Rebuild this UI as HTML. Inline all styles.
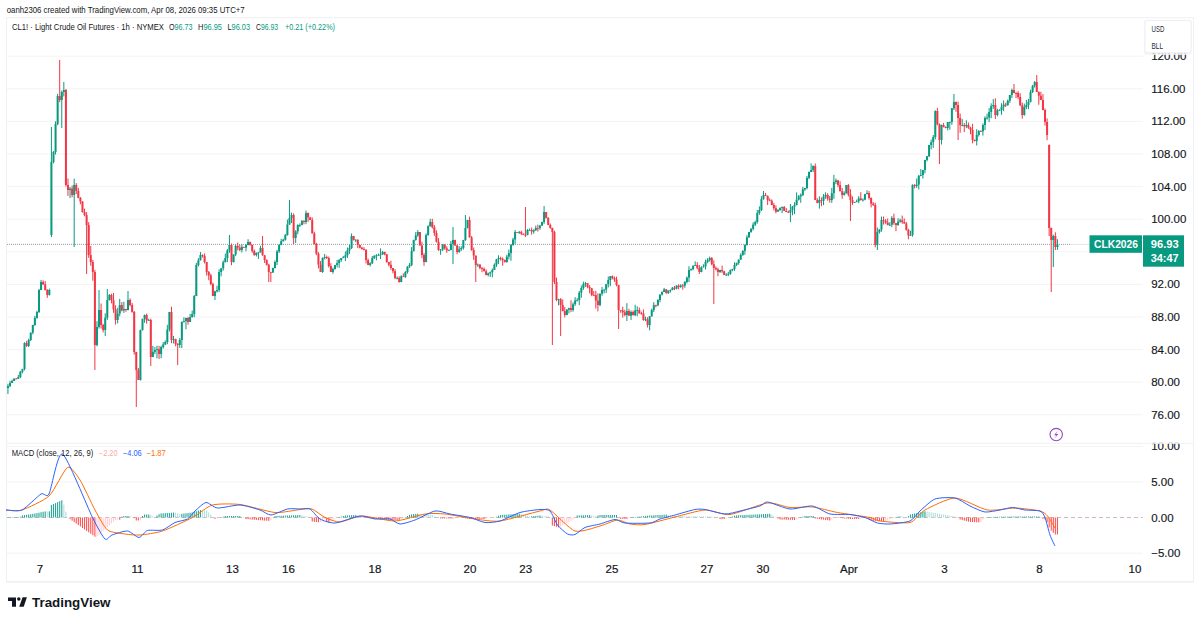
<!DOCTYPE html>
<html><head><meta charset="utf-8"><style>
html,body{margin:0;padding:0;background:#fff;width:1200px;height:621px;overflow:hidden}
svg{display:block}
</style></head><body>
<svg width="1200" height="621" viewBox="0 0 1200 621">
<rect width="1200" height="621" fill="#fff"/>
<line x1="7" y1="56.2" x2="1143" y2="56.2" stroke="#f3f3f4" stroke-width="1"/>
<line x1="7" y1="88.8" x2="1143" y2="88.8" stroke="#f3f3f4" stroke-width="1"/>
<line x1="7" y1="121.4" x2="1143" y2="121.4" stroke="#f3f3f4" stroke-width="1"/>
<line x1="7" y1="154.0" x2="1143" y2="154.0" stroke="#f3f3f4" stroke-width="1"/>
<line x1="7" y1="186.6" x2="1143" y2="186.6" stroke="#f3f3f4" stroke-width="1"/>
<line x1="7" y1="219.2" x2="1143" y2="219.2" stroke="#f3f3f4" stroke-width="1"/>
<line x1="7" y1="251.8" x2="1143" y2="251.8" stroke="#f3f3f4" stroke-width="1"/>
<line x1="7" y1="284.4" x2="1143" y2="284.4" stroke="#f3f3f4" stroke-width="1"/>
<line x1="7" y1="317.0" x2="1143" y2="317.0" stroke="#f3f3f4" stroke-width="1"/>
<line x1="7" y1="349.6" x2="1143" y2="349.6" stroke="#f3f3f4" stroke-width="1"/>
<line x1="7" y1="382.2" x2="1143" y2="382.2" stroke="#f3f3f4" stroke-width="1"/>
<line x1="7" y1="414.8" x2="1143" y2="414.8" stroke="#f3f3f4" stroke-width="1"/>
<line x1="7" y1="446.3" x2="1143" y2="446.3" stroke="#f3f3f4" stroke-width="1"/>
<line x1="7" y1="482.0" x2="1143" y2="482.0" stroke="#f3f3f4" stroke-width="1"/>
<line x1="7" y1="553.2" x2="1143" y2="553.2" stroke="#f3f3f4" stroke-width="1"/>
<rect x="6.5" y="17.8" width="1187" height="564" fill="none" stroke="#f0f0f2" stroke-width="1"/>
<line x1="7" y1="443.3" x2="1193" y2="443.3" stroke="#f0f0f2" stroke-width="1"/>
<line x1="7" y1="582" x2="1193" y2="582" stroke="#f0f0f2" stroke-width="1.5"/>
<line x1="7" y1="244.4" x2="1070" y2="244.4" stroke="#787B86" stroke-width="1" stroke-dasharray="1 1" opacity="0.75"/>
<line x1="1070" y1="244.4" x2="1090" y2="244.4" stroke="#e3e6ea" stroke-width="1"/>
<line x1="7.95" y1="383.8" x2="7.95" y2="394.0" stroke="#089981" stroke-width="1"/>
<rect x="6.95" y="386.0" width="2.0" height="2.0" fill="#089981"/>
<line x1="10.02" y1="380.7" x2="10.02" y2="387.3" stroke="#089981" stroke-width="1"/>
<rect x="9.02" y="383.0" width="2.0" height="3.0" fill="#089981"/>
<line x1="12.09" y1="379.5" x2="12.09" y2="383.0" stroke="#089981" stroke-width="1"/>
<rect x="11.09" y="381.0" width="2.0" height="2.0" fill="#089981"/>
<line x1="14.16" y1="378.4" x2="14.16" y2="381.0" stroke="#089981" stroke-width="1"/>
<rect x="13.16" y="378.6" width="2.0" height="2.4" fill="#089981"/>
<line x1="16.23" y1="377.9" x2="16.23" y2="379.1" stroke="#F23645" stroke-width="1"/>
<rect x="15.23" y="378.6" width="2.0" height="0.8" fill="#F23645"/>
<line x1="18.30" y1="374.8" x2="18.30" y2="378.8" stroke="#089981" stroke-width="1"/>
<rect x="17.30" y="377.0" width="2.0" height="1.8" fill="#089981"/>
<line x1="20.37" y1="371.0" x2="20.37" y2="378.2" stroke="#089981" stroke-width="1"/>
<rect x="19.37" y="371.7" width="2.0" height="5.3" fill="#089981"/>
<line x1="22.44" y1="368.8" x2="22.44" y2="373.3" stroke="#089981" stroke-width="1"/>
<rect x="21.44" y="369.0" width="2.0" height="2.7" fill="#089981"/>
<line x1="24.51" y1="342.3" x2="24.51" y2="370.4" stroke="#089981" stroke-width="1"/>
<rect x="23.51" y="343.0" width="2.0" height="26.0" fill="#089981"/>
<line x1="26.58" y1="340.9" x2="26.58" y2="346.8" stroke="#F23645" stroke-width="1"/>
<rect x="25.58" y="343.0" width="2.0" height="3.0" fill="#F23645"/>
<line x1="28.65" y1="338.7" x2="28.65" y2="347.0" stroke="#089981" stroke-width="1"/>
<rect x="27.65" y="340.0" width="2.0" height="6.0" fill="#089981"/>
<line x1="30.72" y1="332.6" x2="30.72" y2="341.1" stroke="#089981" stroke-width="1"/>
<rect x="29.72" y="332.6" width="2.0" height="7.4" fill="#089981"/>
<line x1="32.79" y1="324.8" x2="32.79" y2="334.2" stroke="#089981" stroke-width="1"/>
<rect x="31.79" y="325.0" width="2.0" height="7.6" fill="#089981"/>
<line x1="34.86" y1="315.9" x2="34.86" y2="325.9" stroke="#089981" stroke-width="1"/>
<rect x="33.86" y="318.0" width="2.0" height="7.0" fill="#089981"/>
<line x1="36.93" y1="310.7" x2="36.93" y2="318.8" stroke="#089981" stroke-width="1"/>
<rect x="35.93" y="312.0" width="2.0" height="6.0" fill="#089981"/>
<line x1="39.00" y1="288.8" x2="39.00" y2="313.1" stroke="#089981" stroke-width="1"/>
<rect x="38.00" y="290.0" width="2.0" height="22.0" fill="#089981"/>
<line x1="41.07" y1="279.9" x2="41.07" y2="290.2" stroke="#089981" stroke-width="1"/>
<rect x="40.07" y="282.0" width="2.0" height="8.0" fill="#089981"/>
<line x1="43.14" y1="280.3" x2="43.14" y2="285.0" stroke="#F23645" stroke-width="1"/>
<rect x="42.14" y="282.0" width="2.0" height="2.4" fill="#F23645"/>
<line x1="45.21" y1="281.1" x2="45.21" y2="290.5" stroke="#F23645" stroke-width="1"/>
<rect x="44.21" y="284.4" width="2.0" height="5.6" fill="#F23645"/>
<line x1="47.28" y1="289.1" x2="47.28" y2="297.8" stroke="#F23645" stroke-width="1"/>
<rect x="46.28" y="290.0" width="2.0" height="5.0" fill="#F23645"/>
<line x1="49.35" y1="288.7" x2="49.35" y2="295.5" stroke="#089981" stroke-width="1"/>
<rect x="48.35" y="290.0" width="2.0" height="5.0" fill="#089981"/>
<line x1="51.42" y1="127.0" x2="51.42" y2="237.1" stroke="#089981" stroke-width="1"/>
<rect x="50.42" y="162.0" width="2.0" height="73.0" fill="#089981"/>
<line x1="53.49" y1="151.1" x2="53.49" y2="163.4" stroke="#089981" stroke-width="1"/>
<rect x="52.49" y="152.0" width="2.0" height="10.0" fill="#089981"/>
<line x1="55.56" y1="121.4" x2="55.56" y2="154.5" stroke="#089981" stroke-width="1"/>
<rect x="54.56" y="124.1" width="2.0" height="27.9" fill="#089981"/>
<line x1="57.63" y1="93.8" x2="57.63" y2="125.2" stroke="#089981" stroke-width="1"/>
<rect x="56.63" y="96.0" width="2.0" height="28.1" fill="#089981"/>
<line x1="59.70" y1="60.0" x2="59.70" y2="102.2" stroke="#F23645" stroke-width="1"/>
<rect x="58.70" y="96.0" width="2.0" height="4.0" fill="#F23645"/>
<line x1="61.77" y1="90.5" x2="61.77" y2="128.0" stroke="#089981" stroke-width="1"/>
<rect x="60.77" y="92.0" width="2.0" height="8.0" fill="#089981"/>
<line x1="63.84" y1="82.0" x2="63.84" y2="96.4" stroke="#089981" stroke-width="1"/>
<rect x="62.84" y="90.0" width="2.0" height="2.0" fill="#089981"/>
<line x1="65.91" y1="89.0" x2="65.91" y2="186.6" stroke="#F23645" stroke-width="1"/>
<rect x="64.91" y="90.0" width="2.0" height="95.0" fill="#F23645"/>
<line x1="67.98" y1="178.5" x2="67.98" y2="195.9" stroke="#F23645" stroke-width="1"/>
<rect x="66.98" y="185.0" width="2.0" height="5.0" fill="#F23645"/>
<line x1="70.05" y1="187.0" x2="70.05" y2="198.1" stroke="#089981" stroke-width="1"/>
<rect x="69.05" y="188.6" width="2.0" height="1.4" fill="#089981"/>
<line x1="72.12" y1="185.5" x2="72.12" y2="197.3" stroke="#F23645" stroke-width="1"/>
<rect x="71.12" y="188.6" width="2.0" height="6.4" fill="#F23645"/>
<line x1="74.19" y1="178.7" x2="74.19" y2="247.0" stroke="#089981" stroke-width="1"/>
<rect x="73.19" y="185.0" width="2.0" height="10.0" fill="#089981"/>
<line x1="76.26" y1="183.1" x2="76.26" y2="194.0" stroke="#F23645" stroke-width="1"/>
<rect x="75.26" y="185.0" width="2.0" height="5.9" fill="#F23645"/>
<line x1="78.33" y1="187.9" x2="78.33" y2="198.3" stroke="#F23645" stroke-width="1"/>
<rect x="77.33" y="190.9" width="2.0" height="7.1" fill="#F23645"/>
<line x1="80.40" y1="197.0" x2="80.40" y2="204.2" stroke="#F23645" stroke-width="1"/>
<rect x="79.40" y="198.0" width="2.0" height="3.4" fill="#F23645"/>
<line x1="82.47" y1="201.3" x2="82.47" y2="212.7" stroke="#F23645" stroke-width="1"/>
<rect x="81.47" y="201.4" width="2.0" height="10.6" fill="#F23645"/>
<line x1="84.54" y1="208.6" x2="84.54" y2="216.3" stroke="#F23645" stroke-width="1"/>
<rect x="83.54" y="212.0" width="2.0" height="3.1" fill="#F23645"/>
<line x1="86.61" y1="212.1" x2="86.61" y2="274.0" stroke="#F23645" stroke-width="1"/>
<rect x="85.61" y="215.1" width="2.0" height="9.9" fill="#F23645"/>
<line x1="88.68" y1="222.1" x2="88.68" y2="257.8" stroke="#F23645" stroke-width="1"/>
<rect x="87.68" y="225.0" width="2.0" height="30.0" fill="#F23645"/>
<line x1="90.75" y1="246.0" x2="90.75" y2="265.8" stroke="#F23645" stroke-width="1"/>
<rect x="89.75" y="255.0" width="2.0" height="7.0" fill="#F23645"/>
<line x1="92.82" y1="259.9" x2="92.82" y2="280.7" stroke="#F23645" stroke-width="1"/>
<rect x="91.82" y="262.0" width="2.0" height="10.0" fill="#F23645"/>
<line x1="94.89" y1="269.9" x2="94.89" y2="370.0" stroke="#F23645" stroke-width="1"/>
<rect x="93.89" y="272.0" width="2.0" height="73.0" fill="#F23645"/>
<line x1="96.96" y1="321.2" x2="96.96" y2="346.4" stroke="#089981" stroke-width="1"/>
<rect x="95.96" y="326.9" width="2.0" height="18.1" fill="#089981"/>
<line x1="99.03" y1="290.0" x2="99.03" y2="328.6" stroke="#089981" stroke-width="1"/>
<rect x="98.03" y="310.0" width="2.0" height="16.9" fill="#089981"/>
<line x1="101.10" y1="303.5" x2="101.10" y2="328.5" stroke="#F23645" stroke-width="1"/>
<rect x="100.10" y="310.0" width="2.0" height="15.0" fill="#F23645"/>
<line x1="103.17" y1="323.9" x2="103.17" y2="332.4" stroke="#F23645" stroke-width="1"/>
<rect x="102.17" y="325.0" width="2.0" height="5.0" fill="#F23645"/>
<line x1="105.24" y1="313.3" x2="105.24" y2="336.1" stroke="#089981" stroke-width="1"/>
<rect x="104.24" y="317.7" width="2.0" height="12.3" fill="#089981"/>
<line x1="107.31" y1="289.0" x2="107.31" y2="320.0" stroke="#089981" stroke-width="1"/>
<rect x="106.31" y="300.0" width="2.0" height="17.7" fill="#089981"/>
<line x1="109.38" y1="294.0" x2="109.38" y2="300.6" stroke="#089981" stroke-width="1"/>
<rect x="108.38" y="295.0" width="2.0" height="5.0" fill="#089981"/>
<line x1="111.45" y1="293.7" x2="111.45" y2="303.4" stroke="#F23645" stroke-width="1"/>
<rect x="110.45" y="295.0" width="2.0" height="5.2" fill="#F23645"/>
<line x1="113.52" y1="293.0" x2="113.52" y2="312.8" stroke="#F23645" stroke-width="1"/>
<rect x="112.52" y="300.2" width="2.0" height="9.2" fill="#F23645"/>
<line x1="115.59" y1="305.3" x2="115.59" y2="324.5" stroke="#F23645" stroke-width="1"/>
<rect x="114.59" y="309.3" width="2.0" height="10.7" fill="#F23645"/>
<line x1="117.66" y1="307.8" x2="117.66" y2="323.3" stroke="#089981" stroke-width="1"/>
<rect x="116.66" y="313.6" width="2.0" height="6.4" fill="#089981"/>
<line x1="119.73" y1="298.9" x2="119.73" y2="316.3" stroke="#089981" stroke-width="1"/>
<rect x="118.73" y="305.0" width="2.0" height="8.6" fill="#089981"/>
<line x1="121.80" y1="302.1" x2="121.80" y2="311.3" stroke="#F23645" stroke-width="1"/>
<rect x="120.80" y="305.0" width="2.0" height="5.4" fill="#F23645"/>
<line x1="123.87" y1="301.7" x2="123.87" y2="312.9" stroke="#089981" stroke-width="1"/>
<rect x="122.87" y="309.0" width="2.0" height="1.4" fill="#089981"/>
<line x1="125.94" y1="308.8" x2="125.94" y2="311.8" stroke="#F23645" stroke-width="1"/>
<rect x="124.94" y="309.0" width="2.0" height="1.0" fill="#F23645"/>
<line x1="128.01" y1="291.0" x2="128.01" y2="310.4" stroke="#089981" stroke-width="1"/>
<rect x="127.01" y="300.0" width="2.0" height="10.0" fill="#089981"/>
<line x1="130.08" y1="298.5" x2="130.08" y2="306.4" stroke="#F23645" stroke-width="1"/>
<rect x="129.08" y="300.0" width="2.0" height="5.1" fill="#F23645"/>
<line x1="132.15" y1="303.0" x2="132.15" y2="312.7" stroke="#F23645" stroke-width="1"/>
<rect x="131.15" y="305.1" width="2.0" height="6.9" fill="#F23645"/>
<line x1="134.22" y1="310.9" x2="134.22" y2="354.7" stroke="#F23645" stroke-width="1"/>
<rect x="133.22" y="312.0" width="2.0" height="40.0" fill="#F23645"/>
<line x1="136.29" y1="351.8" x2="136.29" y2="407.0" stroke="#F23645" stroke-width="1"/>
<rect x="135.29" y="352.0" width="2.0" height="18.0" fill="#F23645"/>
<line x1="138.36" y1="367.9" x2="138.36" y2="380.0" stroke="#F23645" stroke-width="1"/>
<rect x="137.36" y="370.0" width="2.0" height="10.0" fill="#F23645"/>
<line x1="140.43" y1="329.6" x2="140.43" y2="380.5" stroke="#089981" stroke-width="1"/>
<rect x="139.43" y="330.0" width="2.0" height="50.0" fill="#089981"/>
<line x1="142.50" y1="318.8" x2="142.50" y2="330.6" stroke="#089981" stroke-width="1"/>
<rect x="141.50" y="318.8" width="2.0" height="11.2" fill="#089981"/>
<line x1="144.57" y1="314.6" x2="144.57" y2="322.8" stroke="#089981" stroke-width="1"/>
<rect x="143.57" y="315.0" width="2.0" height="3.8" fill="#089981"/>
<line x1="146.64" y1="313.7" x2="146.64" y2="323.7" stroke="#F23645" stroke-width="1"/>
<rect x="145.64" y="315.0" width="2.0" height="5.3" fill="#F23645"/>
<line x1="148.71" y1="318.6" x2="148.71" y2="320.9" stroke="#089981" stroke-width="1"/>
<rect x="147.71" y="320.0" width="2.0" height="0.8" fill="#089981"/>
<line x1="150.78" y1="318.6" x2="150.78" y2="366.0" stroke="#F23645" stroke-width="1"/>
<rect x="149.78" y="320.0" width="2.0" height="37.0" fill="#F23645"/>
<line x1="152.85" y1="345.8" x2="152.85" y2="357.2" stroke="#089981" stroke-width="1"/>
<rect x="151.85" y="351.8" width="2.0" height="5.2" fill="#089981"/>
<line x1="154.92" y1="347.1" x2="154.92" y2="354.2" stroke="#089981" stroke-width="1"/>
<rect x="153.92" y="350.0" width="2.0" height="1.8" fill="#089981"/>
<line x1="156.99" y1="345.7" x2="156.99" y2="358.3" stroke="#089981" stroke-width="1"/>
<rect x="155.99" y="349.2" width="2.0" height="0.8" fill="#089981"/>
<line x1="159.06" y1="345.9" x2="159.06" y2="359.0" stroke="#F23645" stroke-width="1"/>
<rect x="158.06" y="349.2" width="2.0" height="4.8" fill="#F23645"/>
<line x1="161.13" y1="345.8" x2="161.13" y2="358.3" stroke="#089981" stroke-width="1"/>
<rect x="160.13" y="347.0" width="2.0" height="7.0" fill="#089981"/>
<line x1="163.20" y1="342.1" x2="163.20" y2="348.6" stroke="#089981" stroke-width="1"/>
<rect x="162.20" y="344.5" width="2.0" height="2.5" fill="#089981"/>
<line x1="165.27" y1="340.4" x2="165.27" y2="345.0" stroke="#089981" stroke-width="1"/>
<rect x="164.27" y="342.0" width="2.0" height="2.5" fill="#089981"/>
<line x1="167.34" y1="324.8" x2="167.34" y2="344.2" stroke="#089981" stroke-width="1"/>
<rect x="166.34" y="329.5" width="2.0" height="12.5" fill="#089981"/>
<line x1="169.41" y1="311.9" x2="169.41" y2="331.4" stroke="#089981" stroke-width="1"/>
<rect x="168.41" y="312.0" width="2.0" height="17.5" fill="#089981"/>
<line x1="171.48" y1="306.8" x2="171.48" y2="343.1" stroke="#F23645" stroke-width="1"/>
<rect x="170.48" y="312.0" width="2.0" height="28.0" fill="#F23645"/>
<line x1="173.55" y1="335.9" x2="173.55" y2="343.4" stroke="#089981" stroke-width="1"/>
<rect x="172.55" y="339.1" width="2.0" height="0.9" fill="#089981"/>
<line x1="175.62" y1="338.7" x2="175.62" y2="346.3" stroke="#F23645" stroke-width="1"/>
<rect x="174.62" y="339.1" width="2.0" height="4.8" fill="#F23645"/>
<line x1="177.69" y1="343.0" x2="177.69" y2="365.0" stroke="#F23645" stroke-width="1"/>
<rect x="176.69" y="344.0" width="2.0" height="1.0" fill="#F23645"/>
<line x1="179.76" y1="338.1" x2="179.76" y2="347.9" stroke="#089981" stroke-width="1"/>
<rect x="178.76" y="340.0" width="2.0" height="5.0" fill="#089981"/>
<line x1="181.83" y1="321.3" x2="181.83" y2="348.1" stroke="#089981" stroke-width="1"/>
<rect x="180.83" y="322.0" width="2.0" height="18.0" fill="#089981"/>
<line x1="183.90" y1="317.2" x2="183.90" y2="322.7" stroke="#089981" stroke-width="1"/>
<rect x="182.90" y="321.1" width="2.0" height="0.9" fill="#089981"/>
<line x1="185.97" y1="317.7" x2="185.97" y2="329.3" stroke="#089981" stroke-width="1"/>
<rect x="184.97" y="318.0" width="2.0" height="3.1" fill="#089981"/>
<line x1="188.04" y1="316.9" x2="188.04" y2="324.8" stroke="#F23645" stroke-width="1"/>
<rect x="187.04" y="318.0" width="2.0" height="4.0" fill="#F23645"/>
<line x1="190.11" y1="313.9" x2="190.11" y2="322.0" stroke="#089981" stroke-width="1"/>
<rect x="189.11" y="317.0" width="2.0" height="5.0" fill="#089981"/>
<line x1="192.18" y1="310.5" x2="192.18" y2="317.6" stroke="#089981" stroke-width="1"/>
<rect x="191.18" y="314.0" width="2.0" height="3.0" fill="#089981"/>
<line x1="194.25" y1="295.0" x2="194.25" y2="317.2" stroke="#089981" stroke-width="1"/>
<rect x="193.25" y="296.0" width="2.0" height="18.0" fill="#089981"/>
<line x1="196.32" y1="262.9" x2="196.32" y2="296.1" stroke="#089981" stroke-width="1"/>
<rect x="195.32" y="265.0" width="2.0" height="31.0" fill="#089981"/>
<line x1="198.39" y1="258.1" x2="198.39" y2="266.4" stroke="#089981" stroke-width="1"/>
<rect x="197.39" y="260.3" width="2.0" height="4.7" fill="#089981"/>
<line x1="200.46" y1="252.0" x2="200.46" y2="260.4" stroke="#089981" stroke-width="1"/>
<rect x="199.46" y="255.0" width="2.0" height="5.3" fill="#089981"/>
<line x1="202.53" y1="254.4" x2="202.53" y2="257.5" stroke="#F23645" stroke-width="1"/>
<rect x="201.53" y="255.0" width="2.0" height="0.9" fill="#F23645"/>
<line x1="204.60" y1="253.4" x2="204.60" y2="263.5" stroke="#F23645" stroke-width="1"/>
<rect x="203.60" y="255.9" width="2.0" height="6.1" fill="#F23645"/>
<line x1="206.67" y1="262.0" x2="206.67" y2="275.5" stroke="#F23645" stroke-width="1"/>
<rect x="205.67" y="262.0" width="2.0" height="10.0" fill="#F23645"/>
<line x1="208.74" y1="271.0" x2="208.74" y2="280.2" stroke="#F23645" stroke-width="1"/>
<rect x="207.74" y="272.0" width="2.0" height="3.4" fill="#F23645"/>
<line x1="210.81" y1="273.8" x2="210.81" y2="285.3" stroke="#F23645" stroke-width="1"/>
<rect x="209.81" y="275.4" width="2.0" height="8.6" fill="#F23645"/>
<line x1="212.88" y1="282.7" x2="212.88" y2="296.1" stroke="#F23645" stroke-width="1"/>
<rect x="211.88" y="284.0" width="2.0" height="12.0" fill="#F23645"/>
<line x1="214.95" y1="290.7" x2="214.95" y2="300.0" stroke="#089981" stroke-width="1"/>
<rect x="213.95" y="291.3" width="2.0" height="4.7" fill="#089981"/>
<line x1="217.02" y1="285.7" x2="217.02" y2="292.5" stroke="#089981" stroke-width="1"/>
<rect x="216.02" y="290.0" width="2.0" height="1.3" fill="#089981"/>
<line x1="219.09" y1="269.4" x2="219.09" y2="292.1" stroke="#089981" stroke-width="1"/>
<rect x="218.09" y="272.0" width="2.0" height="18.0" fill="#089981"/>
<line x1="221.16" y1="268.0" x2="221.16" y2="276.3" stroke="#089981" stroke-width="1"/>
<rect x="220.16" y="268.4" width="2.0" height="3.6" fill="#089981"/>
<line x1="223.23" y1="260.4" x2="223.23" y2="270.6" stroke="#089981" stroke-width="1"/>
<rect x="222.23" y="262.2" width="2.0" height="6.1" fill="#089981"/>
<line x1="225.30" y1="253.6" x2="225.30" y2="262.4" stroke="#089981" stroke-width="1"/>
<rect x="224.30" y="258.0" width="2.0" height="4.2" fill="#089981"/>
<line x1="227.37" y1="249.0" x2="227.37" y2="262.1" stroke="#089981" stroke-width="1"/>
<rect x="226.37" y="250.4" width="2.0" height="7.6" fill="#089981"/>
<line x1="229.44" y1="235.0" x2="229.44" y2="252.9" stroke="#089981" stroke-width="1"/>
<rect x="228.44" y="245.0" width="2.0" height="5.4" fill="#089981"/>
<line x1="231.51" y1="243.5" x2="231.51" y2="265.2" stroke="#F23645" stroke-width="1"/>
<rect x="230.51" y="245.0" width="2.0" height="17.0" fill="#F23645"/>
<line x1="233.58" y1="254.4" x2="233.58" y2="262.6" stroke="#089981" stroke-width="1"/>
<rect x="232.58" y="254.5" width="2.0" height="7.5" fill="#089981"/>
<line x1="235.65" y1="244.5" x2="235.65" y2="256.1" stroke="#089981" stroke-width="1"/>
<rect x="234.65" y="246.0" width="2.0" height="8.5" fill="#089981"/>
<line x1="237.72" y1="242.6" x2="237.72" y2="250.4" stroke="#F23645" stroke-width="1"/>
<rect x="236.72" y="246.0" width="2.0" height="1.7" fill="#F23645"/>
<line x1="239.79" y1="244.7" x2="239.79" y2="251.2" stroke="#F23645" stroke-width="1"/>
<rect x="238.79" y="247.7" width="2.0" height="2.3" fill="#F23645"/>
<line x1="241.86" y1="244.4" x2="241.86" y2="252.5" stroke="#089981" stroke-width="1"/>
<rect x="240.86" y="246.9" width="2.0" height="3.1" fill="#089981"/>
<line x1="243.93" y1="246.7" x2="243.93" y2="247.7" stroke="#F23645" stroke-width="1"/>
<rect x="242.93" y="246.9" width="2.0" height="0.8" fill="#F23645"/>
<line x1="246.00" y1="244.0" x2="246.00" y2="251.3" stroke="#089981" stroke-width="1"/>
<rect x="245.00" y="245.1" width="2.0" height="2.5" fill="#089981"/>
<line x1="248.07" y1="239.2" x2="248.07" y2="245.2" stroke="#089981" stroke-width="1"/>
<rect x="247.07" y="242.0" width="2.0" height="3.1" fill="#089981"/>
<line x1="250.14" y1="241.6" x2="250.14" y2="245.6" stroke="#F23645" stroke-width="1"/>
<rect x="249.14" y="242.0" width="2.0" height="2.9" fill="#F23645"/>
<line x1="252.21" y1="244.7" x2="252.21" y2="252.8" stroke="#F23645" stroke-width="1"/>
<rect x="251.21" y="244.9" width="2.0" height="6.2" fill="#F23645"/>
<line x1="254.28" y1="249.5" x2="254.28" y2="255.8" stroke="#F23645" stroke-width="1"/>
<rect x="253.28" y="251.1" width="2.0" height="3.9" fill="#F23645"/>
<line x1="256.35" y1="252.6" x2="256.35" y2="256.5" stroke="#089981" stroke-width="1"/>
<rect x="255.35" y="252.8" width="2.0" height="2.2" fill="#089981"/>
<line x1="258.42" y1="252.0" x2="258.42" y2="258.9" stroke="#089981" stroke-width="1"/>
<rect x="257.42" y="252.4" width="2.0" height="0.8" fill="#089981"/>
<line x1="260.49" y1="245.8" x2="260.49" y2="252.5" stroke="#089981" stroke-width="1"/>
<rect x="259.49" y="248.0" width="2.0" height="4.4" fill="#089981"/>
<line x1="262.56" y1="236.0" x2="262.56" y2="255.7" stroke="#F23645" stroke-width="1"/>
<rect x="261.56" y="248.0" width="2.0" height="7.3" fill="#F23645"/>
<line x1="264.63" y1="254.9" x2="264.63" y2="263.0" stroke="#F23645" stroke-width="1"/>
<rect x="263.63" y="255.3" width="2.0" height="4.7" fill="#F23645"/>
<line x1="266.70" y1="259.4" x2="266.70" y2="265.5" stroke="#F23645" stroke-width="1"/>
<rect x="265.70" y="260.0" width="2.0" height="4.8" fill="#F23645"/>
<line x1="268.77" y1="263.8" x2="268.77" y2="282.0" stroke="#F23645" stroke-width="1"/>
<rect x="267.77" y="264.8" width="2.0" height="7.2" fill="#F23645"/>
<line x1="270.84" y1="271.9" x2="270.84" y2="282.0" stroke="#F23645" stroke-width="1"/>
<rect x="269.84" y="272.0" width="2.0" height="0.8" fill="#F23645"/>
<line x1="272.91" y1="267.7" x2="272.91" y2="272.8" stroke="#089981" stroke-width="1"/>
<rect x="271.91" y="268.0" width="2.0" height="4.6" fill="#089981"/>
<line x1="274.98" y1="260.4" x2="274.98" y2="268.6" stroke="#089981" stroke-width="1"/>
<rect x="273.98" y="262.0" width="2.0" height="6.0" fill="#089981"/>
<line x1="277.05" y1="249.8" x2="277.05" y2="265.0" stroke="#089981" stroke-width="1"/>
<rect x="276.05" y="251.4" width="2.0" height="10.6" fill="#089981"/>
<line x1="279.12" y1="244.2" x2="279.12" y2="253.0" stroke="#089981" stroke-width="1"/>
<rect x="278.12" y="245.0" width="2.0" height="6.4" fill="#089981"/>
<line x1="281.19" y1="238.8" x2="281.19" y2="245.3" stroke="#089981" stroke-width="1"/>
<rect x="280.19" y="241.2" width="2.0" height="3.8" fill="#089981"/>
<line x1="283.26" y1="238.7" x2="283.26" y2="241.5" stroke="#089981" stroke-width="1"/>
<rect x="282.26" y="239.7" width="2.0" height="1.5" fill="#089981"/>
<line x1="285.33" y1="233.9" x2="285.33" y2="240.6" stroke="#089981" stroke-width="1"/>
<rect x="284.33" y="235.0" width="2.0" height="4.7" fill="#089981"/>
<line x1="287.40" y1="219.6" x2="287.40" y2="235.7" stroke="#089981" stroke-width="1"/>
<rect x="286.40" y="224.6" width="2.0" height="10.4" fill="#089981"/>
<line x1="289.47" y1="200.0" x2="289.47" y2="224.9" stroke="#089981" stroke-width="1"/>
<rect x="288.47" y="218.0" width="2.0" height="6.6" fill="#089981"/>
<line x1="291.54" y1="212.6" x2="291.54" y2="223.1" stroke="#089981" stroke-width="1"/>
<rect x="290.54" y="215.0" width="2.0" height="3.0" fill="#089981"/>
<line x1="293.61" y1="213.4" x2="293.61" y2="244.0" stroke="#F23645" stroke-width="1"/>
<rect x="292.61" y="215.0" width="2.0" height="23.0" fill="#F23645"/>
<line x1="295.68" y1="230.2" x2="295.68" y2="243.0" stroke="#089981" stroke-width="1"/>
<rect x="294.68" y="231.4" width="2.0" height="6.6" fill="#089981"/>
<line x1="297.75" y1="224.3" x2="297.75" y2="234.2" stroke="#089981" stroke-width="1"/>
<rect x="296.75" y="225.0" width="2.0" height="6.4" fill="#089981"/>
<line x1="299.82" y1="223.4" x2="299.82" y2="227.0" stroke="#089981" stroke-width="1"/>
<rect x="298.82" y="225.0" width="2.0" height="0.8" fill="#089981"/>
<line x1="301.89" y1="220.0" x2="301.89" y2="225.3" stroke="#089981" stroke-width="1"/>
<rect x="300.89" y="221.1" width="2.0" height="3.9" fill="#089981"/>
<line x1="303.96" y1="220.0" x2="303.96" y2="224.3" stroke="#F23645" stroke-width="1"/>
<rect x="302.96" y="221.1" width="2.0" height="0.9" fill="#F23645"/>
<line x1="306.03" y1="210.5" x2="306.03" y2="224.2" stroke="#089981" stroke-width="1"/>
<rect x="305.03" y="213.0" width="2.0" height="9.0" fill="#089981"/>
<line x1="308.10" y1="212.5" x2="308.10" y2="221.9" stroke="#F23645" stroke-width="1"/>
<rect x="307.10" y="213.0" width="2.0" height="4.4" fill="#F23645"/>
<line x1="310.17" y1="216.9" x2="310.17" y2="220.0" stroke="#F23645" stroke-width="1"/>
<rect x="309.17" y="217.4" width="2.0" height="2.6" fill="#F23645"/>
<line x1="312.24" y1="217.5" x2="312.24" y2="233.5" stroke="#F23645" stroke-width="1"/>
<rect x="311.24" y="220.0" width="2.0" height="13.4" fill="#F23645"/>
<line x1="314.31" y1="231.7" x2="314.31" y2="244.5" stroke="#F23645" stroke-width="1"/>
<rect x="313.31" y="233.4" width="2.0" height="10.6" fill="#F23645"/>
<line x1="316.38" y1="242.8" x2="316.38" y2="255.2" stroke="#F23645" stroke-width="1"/>
<rect x="315.38" y="244.0" width="2.0" height="9.7" fill="#F23645"/>
<line x1="318.45" y1="252.1" x2="318.45" y2="268.4" stroke="#F23645" stroke-width="1"/>
<rect x="317.45" y="253.7" width="2.0" height="10.9" fill="#F23645"/>
<line x1="320.52" y1="261.1" x2="320.52" y2="272.0" stroke="#F23645" stroke-width="1"/>
<rect x="319.52" y="264.7" width="2.0" height="7.3" fill="#F23645"/>
<line x1="322.59" y1="257.4" x2="322.59" y2="272.9" stroke="#089981" stroke-width="1"/>
<rect x="321.59" y="258.0" width="2.0" height="14.0" fill="#089981"/>
<line x1="324.66" y1="254.0" x2="324.66" y2="259.5" stroke="#089981" stroke-width="1"/>
<rect x="323.66" y="257.0" width="2.0" height="1.0" fill="#089981"/>
<line x1="326.73" y1="255.6" x2="326.73" y2="259.0" stroke="#F23645" stroke-width="1"/>
<rect x="325.73" y="257.0" width="2.0" height="1.0" fill="#F23645"/>
<line x1="328.80" y1="256.5" x2="328.80" y2="267.6" stroke="#F23645" stroke-width="1"/>
<rect x="327.80" y="258.0" width="2.0" height="8.0" fill="#F23645"/>
<line x1="330.87" y1="263.2" x2="330.87" y2="272.0" stroke="#F23645" stroke-width="1"/>
<rect x="329.87" y="266.0" width="2.0" height="6.0" fill="#F23645"/>
<line x1="332.94" y1="267.6" x2="332.94" y2="273.7" stroke="#089981" stroke-width="1"/>
<rect x="331.94" y="269.0" width="2.0" height="3.0" fill="#089981"/>
<line x1="335.01" y1="264.9" x2="335.01" y2="269.7" stroke="#089981" stroke-width="1"/>
<rect x="334.01" y="265.0" width="2.0" height="4.0" fill="#089981"/>
<line x1="337.08" y1="259.9" x2="337.08" y2="267.4" stroke="#089981" stroke-width="1"/>
<rect x="336.08" y="263.1" width="2.0" height="1.9" fill="#089981"/>
<line x1="339.15" y1="259.0" x2="339.15" y2="267.9" stroke="#089981" stroke-width="1"/>
<rect x="338.15" y="260.1" width="2.0" height="3.0" fill="#089981"/>
<line x1="341.22" y1="258.0" x2="341.22" y2="261.8" stroke="#089981" stroke-width="1"/>
<rect x="340.22" y="258.0" width="2.0" height="2.1" fill="#089981"/>
<line x1="343.29" y1="255.9" x2="343.29" y2="258.1" stroke="#089981" stroke-width="1"/>
<rect x="342.29" y="257.3" width="2.0" height="0.8" fill="#089981"/>
<line x1="345.36" y1="251.6" x2="345.36" y2="261.1" stroke="#089981" stroke-width="1"/>
<rect x="344.36" y="255.4" width="2.0" height="1.9" fill="#089981"/>
<line x1="347.43" y1="247.5" x2="347.43" y2="258.0" stroke="#089981" stroke-width="1"/>
<rect x="346.43" y="250.4" width="2.0" height="5.0" fill="#089981"/>
<line x1="349.50" y1="244.8" x2="349.50" y2="253.8" stroke="#089981" stroke-width="1"/>
<rect x="348.50" y="248.0" width="2.0" height="2.4" fill="#089981"/>
<line x1="351.57" y1="233.5" x2="351.57" y2="249.0" stroke="#089981" stroke-width="1"/>
<rect x="350.57" y="236.0" width="2.0" height="12.0" fill="#089981"/>
<line x1="353.64" y1="235.9" x2="353.64" y2="240.5" stroke="#F23645" stroke-width="1"/>
<rect x="352.64" y="236.0" width="2.0" height="3.9" fill="#F23645"/>
<line x1="355.71" y1="239.4" x2="355.71" y2="242.2" stroke="#089981" stroke-width="1"/>
<rect x="354.71" y="239.7" width="2.0" height="0.8" fill="#089981"/>
<line x1="357.78" y1="239.6" x2="357.78" y2="248.1" stroke="#F23645" stroke-width="1"/>
<rect x="356.78" y="239.7" width="2.0" height="5.3" fill="#F23645"/>
<line x1="359.85" y1="244.8" x2="359.85" y2="248.4" stroke="#F23645" stroke-width="1"/>
<rect x="358.85" y="245.0" width="2.0" height="2.7" fill="#F23645"/>
<line x1="361.92" y1="246.7" x2="361.92" y2="249.6" stroke="#F23645" stroke-width="1"/>
<rect x="360.92" y="247.7" width="2.0" height="1.4" fill="#F23645"/>
<line x1="363.99" y1="247.2" x2="363.99" y2="250.3" stroke="#F23645" stroke-width="1"/>
<rect x="362.99" y="249.1" width="2.0" height="0.9" fill="#F23645"/>
<line x1="366.06" y1="249.0" x2="366.06" y2="263.5" stroke="#F23645" stroke-width="1"/>
<rect x="365.06" y="250.0" width="2.0" height="10.1" fill="#F23645"/>
<line x1="368.13" y1="258.5" x2="368.13" y2="265.2" stroke="#F23645" stroke-width="1"/>
<rect x="367.13" y="260.1" width="2.0" height="4.9" fill="#F23645"/>
<line x1="370.20" y1="262.2" x2="370.20" y2="266.5" stroke="#089981" stroke-width="1"/>
<rect x="369.20" y="263.2" width="2.0" height="1.8" fill="#089981"/>
<line x1="372.27" y1="256.0" x2="372.27" y2="264.0" stroke="#089981" stroke-width="1"/>
<rect x="371.27" y="258.0" width="2.0" height="5.2" fill="#089981"/>
<line x1="374.34" y1="255.2" x2="374.34" y2="259.1" stroke="#089981" stroke-width="1"/>
<rect x="373.34" y="255.8" width="2.0" height="2.2" fill="#089981"/>
<line x1="376.41" y1="254.2" x2="376.41" y2="260.3" stroke="#089981" stroke-width="1"/>
<rect x="375.41" y="255.4" width="2.0" height="0.8" fill="#089981"/>
<line x1="378.48" y1="253.5" x2="378.48" y2="255.4" stroke="#089981" stroke-width="1"/>
<rect x="377.48" y="255.0" width="2.0" height="0.8" fill="#089981"/>
<line x1="380.55" y1="248.4" x2="380.55" y2="259.0" stroke="#089981" stroke-width="1"/>
<rect x="379.55" y="254.4" width="2.0" height="0.8" fill="#089981"/>
<line x1="382.62" y1="250.9" x2="382.62" y2="254.8" stroke="#089981" stroke-width="1"/>
<rect x="381.62" y="252.0" width="2.0" height="2.4" fill="#089981"/>
<line x1="384.69" y1="251.7" x2="384.69" y2="255.3" stroke="#F23645" stroke-width="1"/>
<rect x="383.69" y="252.0" width="2.0" height="2.4" fill="#F23645"/>
<line x1="386.76" y1="253.9" x2="386.76" y2="262.8" stroke="#F23645" stroke-width="1"/>
<rect x="385.76" y="254.4" width="2.0" height="7.6" fill="#F23645"/>
<line x1="388.83" y1="261.9" x2="388.83" y2="266.4" stroke="#F23645" stroke-width="1"/>
<rect x="387.83" y="262.0" width="2.0" height="2.8" fill="#F23645"/>
<line x1="390.90" y1="260.7" x2="390.90" y2="269.9" stroke="#F23645" stroke-width="1"/>
<rect x="389.90" y="264.8" width="2.0" height="3.2" fill="#F23645"/>
<line x1="392.97" y1="268.0" x2="392.97" y2="273.4" stroke="#F23645" stroke-width="1"/>
<rect x="391.97" y="268.0" width="2.0" height="3.2" fill="#F23645"/>
<line x1="395.04" y1="269.0" x2="395.04" y2="279.3" stroke="#F23645" stroke-width="1"/>
<rect x="394.04" y="271.2" width="2.0" height="6.8" fill="#F23645"/>
<line x1="397.11" y1="276.5" x2="397.11" y2="279.4" stroke="#089981" stroke-width="1"/>
<rect x="396.11" y="277.9" width="2.0" height="0.8" fill="#089981"/>
<line x1="399.18" y1="276.3" x2="399.18" y2="282.7" stroke="#F23645" stroke-width="1"/>
<rect x="398.18" y="277.9" width="2.0" height="4.1" fill="#F23645"/>
<line x1="401.25" y1="275.2" x2="401.25" y2="282.2" stroke="#089981" stroke-width="1"/>
<rect x="400.25" y="276.3" width="2.0" height="5.7" fill="#089981"/>
<line x1="403.32" y1="273.3" x2="403.32" y2="276.8" stroke="#F23645" stroke-width="1"/>
<rect x="402.32" y="276.3" width="2.0" height="0.8" fill="#F23645"/>
<line x1="405.39" y1="271.0" x2="405.39" y2="277.9" stroke="#089981" stroke-width="1"/>
<rect x="404.39" y="272.0" width="2.0" height="4.8" fill="#089981"/>
<line x1="407.46" y1="266.3" x2="407.46" y2="273.6" stroke="#089981" stroke-width="1"/>
<rect x="406.46" y="266.5" width="2.0" height="5.5" fill="#089981"/>
<line x1="409.53" y1="263.1" x2="409.53" y2="267.9" stroke="#089981" stroke-width="1"/>
<rect x="408.53" y="265.0" width="2.0" height="1.5" fill="#089981"/>
<line x1="411.60" y1="247.1" x2="411.60" y2="266.2" stroke="#089981" stroke-width="1"/>
<rect x="410.60" y="251.1" width="2.0" height="13.9" fill="#089981"/>
<line x1="413.67" y1="239.7" x2="413.67" y2="251.5" stroke="#089981" stroke-width="1"/>
<rect x="412.67" y="240.0" width="2.0" height="11.1" fill="#089981"/>
<line x1="415.74" y1="232.1" x2="415.74" y2="240.7" stroke="#089981" stroke-width="1"/>
<rect x="414.74" y="235.4" width="2.0" height="4.6" fill="#089981"/>
<line x1="417.81" y1="230.1" x2="417.81" y2="236.9" stroke="#089981" stroke-width="1"/>
<rect x="416.81" y="232.0" width="2.0" height="3.4" fill="#089981"/>
<line x1="419.88" y1="232.0" x2="419.88" y2="245.5" stroke="#F23645" stroke-width="1"/>
<rect x="418.88" y="232.0" width="2.0" height="13.5" fill="#F23645"/>
<line x1="421.95" y1="241.7" x2="421.95" y2="258.1" stroke="#F23645" stroke-width="1"/>
<rect x="420.95" y="245.5" width="2.0" height="9.5" fill="#F23645"/>
<line x1="424.02" y1="253.1" x2="424.02" y2="265.8" stroke="#F23645" stroke-width="1"/>
<rect x="423.02" y="255.0" width="2.0" height="7.0" fill="#F23645"/>
<line x1="426.09" y1="233.4" x2="426.09" y2="262.3" stroke="#089981" stroke-width="1"/>
<rect x="425.09" y="235.0" width="2.0" height="27.0" fill="#089981"/>
<line x1="428.16" y1="225.3" x2="428.16" y2="235.8" stroke="#089981" stroke-width="1"/>
<rect x="427.16" y="226.2" width="2.0" height="8.8" fill="#089981"/>
<line x1="430.23" y1="218.8" x2="430.23" y2="226.7" stroke="#089981" stroke-width="1"/>
<rect x="429.23" y="222.0" width="2.0" height="4.2" fill="#089981"/>
<line x1="432.30" y1="218.8" x2="432.30" y2="228.5" stroke="#F23645" stroke-width="1"/>
<rect x="431.30" y="222.0" width="2.0" height="5.2" fill="#F23645"/>
<line x1="434.37" y1="225.0" x2="434.37" y2="235.9" stroke="#F23645" stroke-width="1"/>
<rect x="433.37" y="227.2" width="2.0" height="5.8" fill="#F23645"/>
<line x1="436.44" y1="230.4" x2="436.44" y2="242.5" stroke="#F23645" stroke-width="1"/>
<rect x="435.44" y="233.0" width="2.0" height="8.8" fill="#F23645"/>
<line x1="438.51" y1="238.1" x2="438.51" y2="250.9" stroke="#F23645" stroke-width="1"/>
<rect x="437.51" y="241.8" width="2.0" height="8.2" fill="#F23645"/>
<line x1="440.58" y1="249.0" x2="440.58" y2="254.8" stroke="#089981" stroke-width="1"/>
<rect x="439.58" y="249.6" width="2.0" height="0.8" fill="#089981"/>
<line x1="442.65" y1="243.9" x2="442.65" y2="251.0" stroke="#089981" stroke-width="1"/>
<rect x="441.65" y="245.0" width="2.0" height="4.6" fill="#089981"/>
<line x1="444.72" y1="243.9" x2="444.72" y2="249.6" stroke="#F23645" stroke-width="1"/>
<rect x="443.72" y="245.0" width="2.0" height="3.4" fill="#F23645"/>
<line x1="446.79" y1="246.2" x2="446.79" y2="252.8" stroke="#F23645" stroke-width="1"/>
<rect x="445.79" y="248.4" width="2.0" height="1.9" fill="#F23645"/>
<line x1="448.86" y1="249.4" x2="448.86" y2="250.8" stroke="#089981" stroke-width="1"/>
<rect x="447.86" y="250.0" width="2.0" height="0.8" fill="#089981"/>
<line x1="450.93" y1="241.0" x2="450.93" y2="250.4" stroke="#089981" stroke-width="1"/>
<rect x="449.93" y="243.8" width="2.0" height="6.2" fill="#089981"/>
<line x1="453.00" y1="227.0" x2="453.00" y2="264.0" stroke="#089981" stroke-width="1"/>
<rect x="452.00" y="240.0" width="2.0" height="3.8" fill="#089981"/>
<line x1="455.07" y1="239.7" x2="455.07" y2="245.7" stroke="#F23645" stroke-width="1"/>
<rect x="454.07" y="240.0" width="2.0" height="5.5" fill="#F23645"/>
<line x1="457.14" y1="244.8" x2="457.14" y2="254.3" stroke="#F23645" stroke-width="1"/>
<rect x="456.14" y="245.5" width="2.0" height="6.5" fill="#F23645"/>
<line x1="459.21" y1="246.2" x2="459.21" y2="252.8" stroke="#089981" stroke-width="1"/>
<rect x="458.21" y="249.2" width="2.0" height="2.8" fill="#089981"/>
<line x1="461.28" y1="246.2" x2="461.28" y2="250.9" stroke="#089981" stroke-width="1"/>
<rect x="460.28" y="248.0" width="2.0" height="1.2" fill="#089981"/>
<line x1="463.35" y1="239.9" x2="463.35" y2="249.6" stroke="#089981" stroke-width="1"/>
<rect x="462.35" y="240.1" width="2.0" height="7.9" fill="#089981"/>
<line x1="465.42" y1="215.0" x2="465.42" y2="240.9" stroke="#089981" stroke-width="1"/>
<rect x="464.42" y="228.0" width="2.0" height="12.1" fill="#089981"/>
<line x1="467.49" y1="219.8" x2="467.49" y2="228.4" stroke="#089981" stroke-width="1"/>
<rect x="466.49" y="220.0" width="2.0" height="8.0" fill="#089981"/>
<line x1="469.56" y1="216.7" x2="469.56" y2="237.5" stroke="#F23645" stroke-width="1"/>
<rect x="468.56" y="220.0" width="2.0" height="17.5" fill="#F23645"/>
<line x1="471.63" y1="236.0" x2="471.63" y2="250.8" stroke="#F23645" stroke-width="1"/>
<rect x="470.63" y="237.5" width="2.0" height="12.5" fill="#F23645"/>
<line x1="473.70" y1="247.5" x2="473.70" y2="259.9" stroke="#F23645" stroke-width="1"/>
<rect x="472.70" y="250.0" width="2.0" height="5.6" fill="#F23645"/>
<line x1="475.77" y1="255.5" x2="475.77" y2="282.0" stroke="#F23645" stroke-width="1"/>
<rect x="474.77" y="255.6" width="2.0" height="9.4" fill="#F23645"/>
<line x1="477.84" y1="263.5" x2="477.84" y2="266.9" stroke="#089981" stroke-width="1"/>
<rect x="476.84" y="264.7" width="2.0" height="0.8" fill="#089981"/>
<line x1="479.91" y1="264.1" x2="479.91" y2="269.3" stroke="#F23645" stroke-width="1"/>
<rect x="478.91" y="264.7" width="2.0" height="3.3" fill="#F23645"/>
<line x1="481.98" y1="267.0" x2="481.98" y2="272.3" stroke="#F23645" stroke-width="1"/>
<rect x="480.98" y="268.0" width="2.0" height="0.9" fill="#F23645"/>
<line x1="484.05" y1="267.4" x2="484.05" y2="271.3" stroke="#F23645" stroke-width="1"/>
<rect x="483.05" y="268.9" width="2.0" height="2.3" fill="#F23645"/>
<line x1="486.12" y1="269.4" x2="486.12" y2="275.4" stroke="#F23645" stroke-width="1"/>
<rect x="485.12" y="271.2" width="2.0" height="3.8" fill="#F23645"/>
<line x1="488.19" y1="272.6" x2="488.19" y2="276.4" stroke="#089981" stroke-width="1"/>
<rect x="487.19" y="273.3" width="2.0" height="1.7" fill="#089981"/>
<line x1="490.26" y1="271.5" x2="490.26" y2="276.9" stroke="#089981" stroke-width="1"/>
<rect x="489.26" y="272.2" width="2.0" height="1.1" fill="#089981"/>
<line x1="492.33" y1="268.5" x2="492.33" y2="277.3" stroke="#089981" stroke-width="1"/>
<rect x="491.33" y="270.0" width="2.0" height="2.2" fill="#089981"/>
<line x1="494.40" y1="263.3" x2="494.40" y2="270.0" stroke="#089981" stroke-width="1"/>
<rect x="493.40" y="264.7" width="2.0" height="5.3" fill="#089981"/>
<line x1="496.47" y1="258.9" x2="496.47" y2="266.9" stroke="#089981" stroke-width="1"/>
<rect x="495.47" y="259.3" width="2.0" height="5.4" fill="#089981"/>
<line x1="498.54" y1="255.3" x2="498.54" y2="263.9" stroke="#089981" stroke-width="1"/>
<rect x="497.54" y="258.0" width="2.0" height="1.3" fill="#089981"/>
<line x1="500.61" y1="256.7" x2="500.61" y2="260.6" stroke="#F23645" stroke-width="1"/>
<rect x="499.61" y="258.0" width="2.0" height="0.9" fill="#F23645"/>
<line x1="502.68" y1="257.5" x2="502.68" y2="265.7" stroke="#F23645" stroke-width="1"/>
<rect x="501.68" y="258.9" width="2.0" height="1.1" fill="#F23645"/>
<line x1="504.75" y1="259.5" x2="504.75" y2="262.6" stroke="#F23645" stroke-width="1"/>
<rect x="503.75" y="260.0" width="2.0" height="2.0" fill="#F23645"/>
<line x1="506.82" y1="254.7" x2="506.82" y2="262.8" stroke="#089981" stroke-width="1"/>
<rect x="505.82" y="256.7" width="2.0" height="5.3" fill="#089981"/>
<line x1="508.89" y1="249.5" x2="508.89" y2="259.4" stroke="#089981" stroke-width="1"/>
<rect x="507.89" y="253.1" width="2.0" height="3.5" fill="#089981"/>
<line x1="510.96" y1="244.2" x2="510.96" y2="260.7" stroke="#089981" stroke-width="1"/>
<rect x="509.96" y="245.0" width="2.0" height="8.1" fill="#089981"/>
<line x1="513.03" y1="237.8" x2="513.03" y2="245.8" stroke="#089981" stroke-width="1"/>
<rect x="512.03" y="239.5" width="2.0" height="5.5" fill="#089981"/>
<line x1="515.10" y1="230.0" x2="515.10" y2="244.3" stroke="#089981" stroke-width="1"/>
<rect x="514.10" y="232.0" width="2.0" height="7.5" fill="#089981"/>
<line x1="517.17" y1="232.0" x2="517.17" y2="232.6" stroke="#F23645" stroke-width="1"/>
<rect x="516.17" y="232.0" width="2.0" height="0.8" fill="#F23645"/>
<line x1="519.24" y1="230.9" x2="519.24" y2="233.9" stroke="#089981" stroke-width="1"/>
<rect x="518.24" y="232.0" width="2.0" height="0.8" fill="#089981"/>
<line x1="521.31" y1="230.6" x2="521.31" y2="235.1" stroke="#F23645" stroke-width="1"/>
<rect x="520.31" y="232.0" width="2.0" height="1.6" fill="#F23645"/>
<line x1="523.38" y1="233.6" x2="523.38" y2="235.1" stroke="#F23645" stroke-width="1"/>
<rect x="522.38" y="233.6" width="2.0" height="1.3" fill="#F23645"/>
<line x1="525.45" y1="207.0" x2="525.45" y2="237.0" stroke="#F23645" stroke-width="1"/>
<rect x="524.45" y="235.0" width="2.0" height="0.8" fill="#F23645"/>
<line x1="527.52" y1="229.0" x2="527.52" y2="235.3" stroke="#089981" stroke-width="1"/>
<rect x="526.52" y="230.0" width="2.0" height="5.0" fill="#089981"/>
<line x1="529.59" y1="228.5" x2="529.59" y2="230.4" stroke="#089981" stroke-width="1"/>
<rect x="528.59" y="230.0" width="2.0" height="0.8" fill="#089981"/>
<line x1="531.66" y1="227.5" x2="531.66" y2="234.7" stroke="#F23645" stroke-width="1"/>
<rect x="530.66" y="230.0" width="2.0" height="1.5" fill="#F23645"/>
<line x1="533.73" y1="229.2" x2="533.73" y2="233.6" stroke="#089981" stroke-width="1"/>
<rect x="532.73" y="230.2" width="2.0" height="1.3" fill="#089981"/>
<line x1="535.80" y1="225.6" x2="535.80" y2="231.0" stroke="#089981" stroke-width="1"/>
<rect x="534.80" y="228.0" width="2.0" height="2.2" fill="#089981"/>
<line x1="537.87" y1="224.6" x2="537.87" y2="231.6" stroke="#F23645" stroke-width="1"/>
<rect x="536.87" y="228.0" width="2.0" height="0.8" fill="#F23645"/>
<line x1="539.94" y1="224.9" x2="539.94" y2="230.0" stroke="#089981" stroke-width="1"/>
<rect x="538.94" y="225.6" width="2.0" height="2.4" fill="#089981"/>
<line x1="542.01" y1="221.6" x2="542.01" y2="226.0" stroke="#089981" stroke-width="1"/>
<rect x="541.01" y="222.0" width="2.0" height="3.6" fill="#089981"/>
<line x1="544.08" y1="206.0" x2="544.08" y2="224.1" stroke="#089981" stroke-width="1"/>
<rect x="543.08" y="212.0" width="2.0" height="10.0" fill="#089981"/>
<line x1="546.15" y1="211.9" x2="546.15" y2="218.5" stroke="#F23645" stroke-width="1"/>
<rect x="545.15" y="212.0" width="2.0" height="5.9" fill="#F23645"/>
<line x1="548.22" y1="217.1" x2="548.22" y2="225.2" stroke="#F23645" stroke-width="1"/>
<rect x="547.22" y="217.9" width="2.0" height="7.1" fill="#F23645"/>
<line x1="550.29" y1="223.5" x2="550.29" y2="228.8" stroke="#F23645" stroke-width="1"/>
<rect x="549.29" y="225.0" width="2.0" height="2.9" fill="#F23645"/>
<line x1="552.36" y1="227.8" x2="552.36" y2="345.0" stroke="#F23645" stroke-width="1"/>
<rect x="551.36" y="227.9" width="2.0" height="4.1" fill="#F23645"/>
<line x1="554.43" y1="230.7" x2="554.43" y2="284.1" stroke="#F23645" stroke-width="1"/>
<rect x="553.43" y="232.0" width="2.0" height="50.0" fill="#F23645"/>
<line x1="556.50" y1="277.5" x2="556.50" y2="301.2" stroke="#F23645" stroke-width="1"/>
<rect x="555.50" y="282.0" width="2.0" height="18.0" fill="#F23645"/>
<line x1="558.57" y1="298.8" x2="558.57" y2="305.3" stroke="#089981" stroke-width="1"/>
<rect x="557.57" y="299.2" width="2.0" height="0.8" fill="#089981"/>
<line x1="560.64" y1="298.1" x2="560.64" y2="336.0" stroke="#F23645" stroke-width="1"/>
<rect x="559.64" y="299.2" width="2.0" height="5.8" fill="#F23645"/>
<line x1="562.71" y1="299.4" x2="562.71" y2="311.3" stroke="#F23645" stroke-width="1"/>
<rect x="561.71" y="305.0" width="2.0" height="6.1" fill="#F23645"/>
<line x1="564.78" y1="307.0" x2="564.78" y2="317.4" stroke="#F23645" stroke-width="1"/>
<rect x="563.78" y="311.1" width="2.0" height="3.9" fill="#F23645"/>
<line x1="566.85" y1="309.0" x2="566.85" y2="315.3" stroke="#089981" stroke-width="1"/>
<rect x="565.85" y="309.7" width="2.0" height="5.3" fill="#089981"/>
<line x1="568.92" y1="307.7" x2="568.92" y2="313.4" stroke="#089981" stroke-width="1"/>
<rect x="567.92" y="308.1" width="2.0" height="1.6" fill="#089981"/>
<line x1="570.99" y1="300.2" x2="570.99" y2="312.2" stroke="#F23645" stroke-width="1"/>
<rect x="569.99" y="308.1" width="2.0" height="1.9" fill="#F23645"/>
<line x1="573.06" y1="302.4" x2="573.06" y2="311.6" stroke="#089981" stroke-width="1"/>
<rect x="572.06" y="304.3" width="2.0" height="5.7" fill="#089981"/>
<line x1="575.13" y1="297.1" x2="575.13" y2="305.9" stroke="#089981" stroke-width="1"/>
<rect x="574.13" y="300.5" width="2.0" height="3.7" fill="#089981"/>
<line x1="577.20" y1="298.1" x2="577.20" y2="301.5" stroke="#089981" stroke-width="1"/>
<rect x="576.20" y="300.0" width="2.0" height="0.8" fill="#089981"/>
<line x1="579.27" y1="290.9" x2="579.27" y2="305.1" stroke="#089981" stroke-width="1"/>
<rect x="578.27" y="292.7" width="2.0" height="7.3" fill="#089981"/>
<line x1="581.34" y1="285.5" x2="581.34" y2="297.8" stroke="#089981" stroke-width="1"/>
<rect x="580.34" y="288.0" width="2.0" height="4.7" fill="#089981"/>
<line x1="583.41" y1="281.7" x2="583.41" y2="289.8" stroke="#089981" stroke-width="1"/>
<rect x="582.41" y="284.0" width="2.0" height="4.0" fill="#089981"/>
<line x1="585.48" y1="281.9" x2="585.48" y2="286.8" stroke="#089981" stroke-width="1"/>
<rect x="584.48" y="283.2" width="2.0" height="0.8" fill="#089981"/>
<line x1="587.55" y1="283.0" x2="587.55" y2="288.3" stroke="#F23645" stroke-width="1"/>
<rect x="586.55" y="283.2" width="2.0" height="3.8" fill="#F23645"/>
<line x1="589.62" y1="285.2" x2="589.62" y2="293.3" stroke="#F23645" stroke-width="1"/>
<rect x="588.62" y="287.0" width="2.0" height="1.2" fill="#F23645"/>
<line x1="591.69" y1="288.1" x2="591.69" y2="296.2" stroke="#F23645" stroke-width="1"/>
<rect x="590.69" y="288.2" width="2.0" height="6.8" fill="#F23645"/>
<line x1="593.76" y1="291.0" x2="593.76" y2="296.0" stroke="#F23645" stroke-width="1"/>
<rect x="592.76" y="295.0" width="2.0" height="0.8" fill="#F23645"/>
<line x1="595.83" y1="290.9" x2="595.83" y2="308.6" stroke="#F23645" stroke-width="1"/>
<rect x="594.83" y="295.1" width="2.0" height="5.5" fill="#F23645"/>
<line x1="597.90" y1="293.4" x2="597.90" y2="311.4" stroke="#F23645" stroke-width="1"/>
<rect x="596.90" y="300.6" width="2.0" height="4.4" fill="#F23645"/>
<line x1="599.97" y1="293.5" x2="599.97" y2="306.3" stroke="#089981" stroke-width="1"/>
<rect x="598.97" y="293.7" width="2.0" height="11.3" fill="#089981"/>
<line x1="602.04" y1="286.9" x2="602.04" y2="295.8" stroke="#089981" stroke-width="1"/>
<rect x="601.04" y="290.0" width="2.0" height="3.7" fill="#089981"/>
<line x1="604.11" y1="288.8" x2="604.11" y2="293.4" stroke="#089981" stroke-width="1"/>
<rect x="603.11" y="289.7" width="2.0" height="0.8" fill="#089981"/>
<line x1="606.18" y1="283.9" x2="606.18" y2="293.0" stroke="#089981" stroke-width="1"/>
<rect x="605.18" y="284.2" width="2.0" height="5.4" fill="#089981"/>
<line x1="608.25" y1="276.5" x2="608.25" y2="287.5" stroke="#089981" stroke-width="1"/>
<rect x="607.25" y="280.0" width="2.0" height="4.2" fill="#089981"/>
<line x1="610.32" y1="276.1" x2="610.32" y2="286.2" stroke="#089981" stroke-width="1"/>
<rect x="609.32" y="276.2" width="2.0" height="3.8" fill="#089981"/>
<line x1="612.39" y1="275.4" x2="612.39" y2="279.4" stroke="#F23645" stroke-width="1"/>
<rect x="611.39" y="276.2" width="2.0" height="1.8" fill="#F23645"/>
<line x1="614.46" y1="276.6" x2="614.46" y2="281.8" stroke="#F23645" stroke-width="1"/>
<rect x="613.46" y="278.0" width="2.0" height="1.5" fill="#F23645"/>
<line x1="616.53" y1="276.7" x2="616.53" y2="286.3" stroke="#F23645" stroke-width="1"/>
<rect x="615.53" y="279.5" width="2.0" height="5.5" fill="#F23645"/>
<line x1="618.60" y1="284.8" x2="618.60" y2="329.0" stroke="#F23645" stroke-width="1"/>
<rect x="617.60" y="285.0" width="2.0" height="25.0" fill="#F23645"/>
<line x1="620.67" y1="310.0" x2="620.67" y2="312.8" stroke="#F23645" stroke-width="1"/>
<rect x="619.67" y="310.0" width="2.0" height="0.8" fill="#F23645"/>
<line x1="622.74" y1="306.7" x2="622.74" y2="317.6" stroke="#F23645" stroke-width="1"/>
<rect x="621.74" y="310.5" width="2.0" height="1.8" fill="#F23645"/>
<line x1="624.81" y1="309.8" x2="624.81" y2="316.3" stroke="#F23645" stroke-width="1"/>
<rect x="623.81" y="312.3" width="2.0" height="2.7" fill="#F23645"/>
<line x1="626.88" y1="303.2" x2="626.88" y2="321.0" stroke="#089981" stroke-width="1"/>
<rect x="625.88" y="311.0" width="2.0" height="4.0" fill="#089981"/>
<line x1="628.95" y1="308.8" x2="628.95" y2="315.8" stroke="#F23645" stroke-width="1"/>
<rect x="627.95" y="311.0" width="2.0" height="4.7" fill="#F23645"/>
<line x1="631.02" y1="310.4" x2="631.02" y2="320.0" stroke="#089981" stroke-width="1"/>
<rect x="630.02" y="312.0" width="2.0" height="3.7" fill="#089981"/>
<line x1="633.09" y1="310.6" x2="633.09" y2="315.3" stroke="#F23645" stroke-width="1"/>
<rect x="632.09" y="312.0" width="2.0" height="3.2" fill="#F23645"/>
<line x1="635.16" y1="304.7" x2="635.16" y2="316.1" stroke="#089981" stroke-width="1"/>
<rect x="634.16" y="310.4" width="2.0" height="4.8" fill="#089981"/>
<line x1="637.23" y1="306.3" x2="637.23" y2="316.2" stroke="#089981" stroke-width="1"/>
<rect x="636.23" y="310.0" width="2.0" height="0.8" fill="#089981"/>
<line x1="639.30" y1="307.5" x2="639.30" y2="313.9" stroke="#F23645" stroke-width="1"/>
<rect x="638.30" y="310.0" width="2.0" height="3.2" fill="#F23645"/>
<line x1="641.37" y1="311.7" x2="641.37" y2="314.8" stroke="#F23645" stroke-width="1"/>
<rect x="640.37" y="313.2" width="2.0" height="0.8" fill="#F23645"/>
<line x1="643.44" y1="309.4" x2="643.44" y2="320.7" stroke="#F23645" stroke-width="1"/>
<rect x="642.44" y="313.5" width="2.0" height="6.5" fill="#F23645"/>
<line x1="645.51" y1="316.7" x2="645.51" y2="321.3" stroke="#089981" stroke-width="1"/>
<rect x="644.51" y="319.4" width="2.0" height="0.8" fill="#089981"/>
<line x1="647.58" y1="317.2" x2="647.58" y2="327.5" stroke="#F23645" stroke-width="1"/>
<rect x="646.58" y="319.4" width="2.0" height="5.6" fill="#F23645"/>
<line x1="649.65" y1="316.0" x2="649.65" y2="330.3" stroke="#089981" stroke-width="1"/>
<rect x="648.65" y="316.3" width="2.0" height="8.7" fill="#089981"/>
<line x1="651.72" y1="308.7" x2="651.72" y2="316.7" stroke="#089981" stroke-width="1"/>
<rect x="650.72" y="310.0" width="2.0" height="6.3" fill="#089981"/>
<line x1="653.79" y1="302.2" x2="653.79" y2="312.0" stroke="#089981" stroke-width="1"/>
<rect x="652.79" y="305.2" width="2.0" height="4.8" fill="#089981"/>
<line x1="655.86" y1="304.7" x2="655.86" y2="307.4" stroke="#F23645" stroke-width="1"/>
<rect x="654.86" y="305.2" width="2.0" height="0.8" fill="#F23645"/>
<line x1="657.93" y1="299.1" x2="657.93" y2="306.3" stroke="#089981" stroke-width="1"/>
<rect x="656.93" y="300.0" width="2.0" height="5.2" fill="#089981"/>
<line x1="660.00" y1="294.5" x2="660.00" y2="302.3" stroke="#089981" stroke-width="1"/>
<rect x="659.00" y="294.5" width="2.0" height="5.5" fill="#089981"/>
<line x1="662.07" y1="291.3" x2="662.07" y2="295.5" stroke="#089981" stroke-width="1"/>
<rect x="661.07" y="292.0" width="2.0" height="2.5" fill="#089981"/>
<line x1="664.14" y1="287.9" x2="664.14" y2="292.1" stroke="#089981" stroke-width="1"/>
<rect x="663.14" y="289.4" width="2.0" height="2.6" fill="#089981"/>
<line x1="666.21" y1="289.0" x2="666.21" y2="293.9" stroke="#F23645" stroke-width="1"/>
<rect x="665.21" y="289.4" width="2.0" height="3.5" fill="#F23645"/>
<line x1="668.28" y1="290.2" x2="668.28" y2="294.0" stroke="#089981" stroke-width="1"/>
<rect x="667.28" y="290.6" width="2.0" height="2.3" fill="#089981"/>
<line x1="670.35" y1="289.4" x2="670.35" y2="292.7" stroke="#089981" stroke-width="1"/>
<rect x="669.35" y="290.0" width="2.0" height="0.8" fill="#089981"/>
<line x1="672.42" y1="287.0" x2="672.42" y2="290.3" stroke="#089981" stroke-width="1"/>
<rect x="671.42" y="287.7" width="2.0" height="2.3" fill="#089981"/>
<line x1="674.49" y1="286.0" x2="674.49" y2="290.0" stroke="#F23645" stroke-width="1"/>
<rect x="673.49" y="287.7" width="2.0" height="1.0" fill="#F23645"/>
<line x1="676.56" y1="285.2" x2="676.56" y2="289.3" stroke="#089981" stroke-width="1"/>
<rect x="675.56" y="285.7" width="2.0" height="3.0" fill="#089981"/>
<line x1="678.63" y1="284.3" x2="678.63" y2="289.3" stroke="#F23645" stroke-width="1"/>
<rect x="677.63" y="285.7" width="2.0" height="1.3" fill="#F23645"/>
<line x1="680.70" y1="284.3" x2="680.70" y2="287.8" stroke="#089981" stroke-width="1"/>
<rect x="679.70" y="285.5" width="2.0" height="1.5" fill="#089981"/>
<line x1="682.77" y1="283.9" x2="682.77" y2="289.7" stroke="#F23645" stroke-width="1"/>
<rect x="681.77" y="285.5" width="2.0" height="0.8" fill="#F23645"/>
<line x1="684.84" y1="281.1" x2="684.84" y2="287.8" stroke="#089981" stroke-width="1"/>
<rect x="683.84" y="282.0" width="2.0" height="3.7" fill="#089981"/>
<line x1="686.91" y1="276.5" x2="686.91" y2="283.4" stroke="#089981" stroke-width="1"/>
<rect x="685.91" y="277.6" width="2.0" height="4.4" fill="#089981"/>
<line x1="688.98" y1="266.2" x2="688.98" y2="282.0" stroke="#089981" stroke-width="1"/>
<rect x="687.98" y="270.0" width="2.0" height="7.6" fill="#089981"/>
<line x1="691.05" y1="268.4" x2="691.05" y2="270.9" stroke="#089981" stroke-width="1"/>
<rect x="690.05" y="269.2" width="2.0" height="0.8" fill="#089981"/>
<line x1="693.12" y1="265.5" x2="693.12" y2="270.3" stroke="#089981" stroke-width="1"/>
<rect x="692.12" y="265.6" width="2.0" height="3.5" fill="#089981"/>
<line x1="695.19" y1="261.3" x2="695.19" y2="265.8" stroke="#089981" stroke-width="1"/>
<rect x="694.19" y="265.0" width="2.0" height="0.8" fill="#089981"/>
<line x1="697.26" y1="262.2" x2="697.26" y2="269.4" stroke="#F23645" stroke-width="1"/>
<rect x="696.26" y="265.0" width="2.0" height="2.9" fill="#F23645"/>
<line x1="699.33" y1="264.9" x2="699.33" y2="274.0" stroke="#F23645" stroke-width="1"/>
<rect x="698.33" y="267.9" width="2.0" height="4.1" fill="#F23645"/>
<line x1="701.40" y1="266.2" x2="701.40" y2="272.3" stroke="#089981" stroke-width="1"/>
<rect x="700.40" y="267.2" width="2.0" height="4.8" fill="#089981"/>
<line x1="703.47" y1="264.3" x2="703.47" y2="267.4" stroke="#089981" stroke-width="1"/>
<rect x="702.47" y="266.5" width="2.0" height="0.8" fill="#089981"/>
<line x1="705.54" y1="259.6" x2="705.54" y2="269.4" stroke="#089981" stroke-width="1"/>
<rect x="704.54" y="262.0" width="2.0" height="4.5" fill="#089981"/>
<line x1="707.61" y1="258.1" x2="707.61" y2="263.3" stroke="#089981" stroke-width="1"/>
<rect x="706.61" y="260.1" width="2.0" height="1.9" fill="#089981"/>
<line x1="709.68" y1="256.6" x2="709.68" y2="261.6" stroke="#089981" stroke-width="1"/>
<rect x="708.68" y="258.0" width="2.0" height="2.1" fill="#089981"/>
<line x1="711.75" y1="257.1" x2="711.75" y2="265.3" stroke="#F23645" stroke-width="1"/>
<rect x="710.75" y="258.0" width="2.0" height="6.2" fill="#F23645"/>
<line x1="713.82" y1="260.3" x2="713.82" y2="304.0" stroke="#F23645" stroke-width="1"/>
<rect x="712.82" y="264.2" width="2.0" height="3.8" fill="#F23645"/>
<line x1="715.89" y1="266.4" x2="715.89" y2="270.5" stroke="#F23645" stroke-width="1"/>
<rect x="714.89" y="268.0" width="2.0" height="1.3" fill="#F23645"/>
<line x1="717.96" y1="267.7" x2="717.96" y2="276.2" stroke="#F23645" stroke-width="1"/>
<rect x="716.96" y="269.3" width="2.0" height="2.7" fill="#F23645"/>
<line x1="720.03" y1="269.7" x2="720.03" y2="272.9" stroke="#089981" stroke-width="1"/>
<rect x="719.03" y="270.0" width="2.0" height="2.0" fill="#089981"/>
<line x1="722.10" y1="265.6" x2="722.10" y2="273.0" stroke="#F23645" stroke-width="1"/>
<rect x="721.10" y="270.0" width="2.0" height="1.3" fill="#F23645"/>
<line x1="724.17" y1="270.7" x2="724.17" y2="275.1" stroke="#F23645" stroke-width="1"/>
<rect x="723.17" y="271.3" width="2.0" height="3.7" fill="#F23645"/>
<line x1="726.24" y1="273.1" x2="726.24" y2="275.8" stroke="#089981" stroke-width="1"/>
<rect x="725.24" y="274.7" width="2.0" height="0.8" fill="#089981"/>
<line x1="728.31" y1="271.8" x2="728.31" y2="276.0" stroke="#089981" stroke-width="1"/>
<rect x="727.31" y="273.8" width="2.0" height="0.9" fill="#089981"/>
<line x1="730.38" y1="269.5" x2="730.38" y2="274.7" stroke="#089981" stroke-width="1"/>
<rect x="729.38" y="270.0" width="2.0" height="3.8" fill="#089981"/>
<line x1="732.45" y1="268.8" x2="732.45" y2="271.2" stroke="#089981" stroke-width="1"/>
<rect x="731.45" y="269.0" width="2.0" height="1.0" fill="#089981"/>
<line x1="734.52" y1="262.2" x2="734.52" y2="270.9" stroke="#089981" stroke-width="1"/>
<rect x="733.52" y="265.0" width="2.0" height="4.0" fill="#089981"/>
<line x1="736.59" y1="262.5" x2="736.59" y2="266.0" stroke="#089981" stroke-width="1"/>
<rect x="735.59" y="263.0" width="2.0" height="2.0" fill="#089981"/>
<line x1="738.66" y1="259.4" x2="738.66" y2="264.7" stroke="#089981" stroke-width="1"/>
<rect x="737.66" y="259.7" width="2.0" height="3.3" fill="#089981"/>
<line x1="740.73" y1="253.3" x2="740.73" y2="259.9" stroke="#089981" stroke-width="1"/>
<rect x="739.73" y="255.0" width="2.0" height="4.7" fill="#089981"/>
<line x1="742.80" y1="250.1" x2="742.80" y2="255.9" stroke="#089981" stroke-width="1"/>
<rect x="741.80" y="251.0" width="2.0" height="4.0" fill="#089981"/>
<line x1="744.87" y1="244.4" x2="744.87" y2="254.7" stroke="#089981" stroke-width="1"/>
<rect x="743.87" y="245.0" width="2.0" height="6.0" fill="#089981"/>
<line x1="746.94" y1="235.2" x2="746.94" y2="245.6" stroke="#089981" stroke-width="1"/>
<rect x="745.94" y="237.3" width="2.0" height="7.7" fill="#089981"/>
<line x1="749.01" y1="232.0" x2="749.01" y2="237.8" stroke="#089981" stroke-width="1"/>
<rect x="748.01" y="232.0" width="2.0" height="5.3" fill="#089981"/>
<line x1="751.08" y1="228.3" x2="751.08" y2="232.8" stroke="#089981" stroke-width="1"/>
<rect x="750.08" y="228.7" width="2.0" height="3.3" fill="#089981"/>
<line x1="753.15" y1="222.4" x2="753.15" y2="230.3" stroke="#089981" stroke-width="1"/>
<rect x="752.15" y="224.6" width="2.0" height="4.2" fill="#089981"/>
<line x1="755.22" y1="220.6" x2="755.22" y2="226.0" stroke="#089981" stroke-width="1"/>
<rect x="754.22" y="222.0" width="2.0" height="2.6" fill="#089981"/>
<line x1="757.29" y1="210.0" x2="757.29" y2="223.6" stroke="#089981" stroke-width="1"/>
<rect x="756.29" y="213.0" width="2.0" height="9.0" fill="#089981"/>
<line x1="759.36" y1="206.3" x2="759.36" y2="214.8" stroke="#089981" stroke-width="1"/>
<rect x="758.36" y="210.0" width="2.0" height="3.0" fill="#089981"/>
<line x1="761.43" y1="196.2" x2="761.43" y2="211.0" stroke="#089981" stroke-width="1"/>
<rect x="760.43" y="199.1" width="2.0" height="10.9" fill="#089981"/>
<line x1="763.50" y1="191.0" x2="763.50" y2="199.7" stroke="#089981" stroke-width="1"/>
<rect x="762.50" y="195.0" width="2.0" height="4.1" fill="#089981"/>
<line x1="765.57" y1="192.9" x2="765.57" y2="196.1" stroke="#F23645" stroke-width="1"/>
<rect x="764.57" y="195.0" width="2.0" height="0.9" fill="#F23645"/>
<line x1="767.64" y1="195.5" x2="767.64" y2="205.0" stroke="#F23645" stroke-width="1"/>
<rect x="766.64" y="195.9" width="2.0" height="4.1" fill="#F23645"/>
<line x1="769.71" y1="198.2" x2="769.71" y2="201.2" stroke="#F23645" stroke-width="1"/>
<rect x="768.71" y="200.0" width="2.0" height="0.8" fill="#F23645"/>
<line x1="771.78" y1="199.4" x2="771.78" y2="205.2" stroke="#F23645" stroke-width="1"/>
<rect x="770.78" y="200.8" width="2.0" height="4.2" fill="#F23645"/>
<line x1="773.85" y1="202.9" x2="773.85" y2="210.3" stroke="#F23645" stroke-width="1"/>
<rect x="772.85" y="205.0" width="2.0" height="3.1" fill="#F23645"/>
<line x1="775.92" y1="205.4" x2="775.92" y2="213.3" stroke="#F23645" stroke-width="1"/>
<rect x="774.92" y="208.1" width="2.0" height="3.6" fill="#F23645"/>
<line x1="777.99" y1="209.2" x2="777.99" y2="211.7" stroke="#089981" stroke-width="1"/>
<rect x="776.99" y="210.0" width="2.0" height="1.6" fill="#089981"/>
<line x1="780.06" y1="207.3" x2="780.06" y2="210.9" stroke="#089981" stroke-width="1"/>
<rect x="779.06" y="208.1" width="2.0" height="1.9" fill="#089981"/>
<line x1="782.13" y1="206.5" x2="782.13" y2="213.1" stroke="#089981" stroke-width="1"/>
<rect x="781.13" y="207.0" width="2.0" height="1.1" fill="#089981"/>
<line x1="784.20" y1="206.0" x2="784.20" y2="211.0" stroke="#F23645" stroke-width="1"/>
<rect x="783.20" y="207.0" width="2.0" height="3.9" fill="#F23645"/>
<line x1="786.27" y1="208.1" x2="786.27" y2="212.1" stroke="#F23645" stroke-width="1"/>
<rect x="785.27" y="210.9" width="2.0" height="1.1" fill="#F23645"/>
<line x1="788.34" y1="210.5" x2="788.34" y2="213.0" stroke="#F23645" stroke-width="1"/>
<rect x="787.34" y="212.0" width="2.0" height="0.8" fill="#F23645"/>
<line x1="790.41" y1="204.0" x2="790.41" y2="222.0" stroke="#089981" stroke-width="1"/>
<rect x="789.41" y="210.0" width="2.0" height="2.5" fill="#089981"/>
<line x1="792.48" y1="205.9" x2="792.48" y2="215.3" stroke="#089981" stroke-width="1"/>
<rect x="791.48" y="206.5" width="2.0" height="3.5" fill="#089981"/>
<line x1="794.55" y1="202.2" x2="794.55" y2="214.2" stroke="#089981" stroke-width="1"/>
<rect x="793.55" y="205.0" width="2.0" height="1.5" fill="#089981"/>
<line x1="796.62" y1="192.4" x2="796.62" y2="205.4" stroke="#089981" stroke-width="1"/>
<rect x="795.62" y="199.7" width="2.0" height="5.3" fill="#089981"/>
<line x1="798.69" y1="194.9" x2="798.69" y2="200.5" stroke="#089981" stroke-width="1"/>
<rect x="797.69" y="196.4" width="2.0" height="3.3" fill="#089981"/>
<line x1="800.76" y1="193.4" x2="800.76" y2="202.8" stroke="#089981" stroke-width="1"/>
<rect x="799.76" y="195.0" width="2.0" height="1.4" fill="#089981"/>
<line x1="802.83" y1="186.9" x2="802.83" y2="196.1" stroke="#089981" stroke-width="1"/>
<rect x="801.83" y="189.3" width="2.0" height="5.7" fill="#089981"/>
<line x1="804.90" y1="187.9" x2="804.90" y2="191.0" stroke="#089981" stroke-width="1"/>
<rect x="803.90" y="188.0" width="2.0" height="1.3" fill="#089981"/>
<line x1="806.97" y1="176.0" x2="806.97" y2="189.4" stroke="#089981" stroke-width="1"/>
<rect x="805.97" y="177.9" width="2.0" height="10.1" fill="#089981"/>
<line x1="809.04" y1="171.4" x2="809.04" y2="179.3" stroke="#089981" stroke-width="1"/>
<rect x="808.04" y="172.0" width="2.0" height="5.9" fill="#089981"/>
<line x1="811.11" y1="163.4" x2="811.11" y2="172.1" stroke="#089981" stroke-width="1"/>
<rect x="810.11" y="169.9" width="2.0" height="2.1" fill="#089981"/>
<line x1="813.18" y1="165.4" x2="813.18" y2="172.1" stroke="#089981" stroke-width="1"/>
<rect x="812.18" y="166.0" width="2.0" height="3.9" fill="#089981"/>
<line x1="815.25" y1="163.5" x2="815.25" y2="200.1" stroke="#F23645" stroke-width="1"/>
<rect x="814.25" y="166.0" width="2.0" height="34.0" fill="#F23645"/>
<line x1="817.32" y1="198.2" x2="817.32" y2="203.3" stroke="#F23645" stroke-width="1"/>
<rect x="816.32" y="200.0" width="2.0" height="2.9" fill="#F23645"/>
<line x1="819.39" y1="196.4" x2="819.39" y2="208.6" stroke="#089981" stroke-width="1"/>
<rect x="818.39" y="200.0" width="2.0" height="2.9" fill="#089981"/>
<line x1="821.46" y1="197.4" x2="821.46" y2="206.3" stroke="#F23645" stroke-width="1"/>
<rect x="820.46" y="200.0" width="2.0" height="0.8" fill="#F23645"/>
<line x1="823.53" y1="194.1" x2="823.53" y2="205.2" stroke="#089981" stroke-width="1"/>
<rect x="822.53" y="196.5" width="2.0" height="4.3" fill="#089981"/>
<line x1="825.60" y1="192.3" x2="825.60" y2="198.9" stroke="#089981" stroke-width="1"/>
<rect x="824.60" y="195.0" width="2.0" height="1.5" fill="#089981"/>
<line x1="827.67" y1="193.2" x2="827.67" y2="200.7" stroke="#F23645" stroke-width="1"/>
<rect x="826.67" y="195.0" width="2.0" height="3.6" fill="#F23645"/>
<line x1="829.74" y1="196.0" x2="829.74" y2="202.6" stroke="#F23645" stroke-width="1"/>
<rect x="828.74" y="198.6" width="2.0" height="1.4" fill="#F23645"/>
<line x1="831.81" y1="187.9" x2="831.81" y2="202.9" stroke="#089981" stroke-width="1"/>
<rect x="830.81" y="193.2" width="2.0" height="6.8" fill="#089981"/>
<line x1="833.88" y1="174.8" x2="833.88" y2="198.7" stroke="#089981" stroke-width="1"/>
<rect x="832.88" y="182.0" width="2.0" height="11.2" fill="#089981"/>
<line x1="835.95" y1="178.5" x2="835.95" y2="184.1" stroke="#089981" stroke-width="1"/>
<rect x="834.95" y="180.5" width="2.0" height="1.5" fill="#089981"/>
<line x1="838.02" y1="179.8" x2="838.02" y2="187.2" stroke="#F23645" stroke-width="1"/>
<rect x="837.02" y="180.5" width="2.0" height="4.5" fill="#F23645"/>
<line x1="840.09" y1="181.2" x2="840.09" y2="191.4" stroke="#F23645" stroke-width="1"/>
<rect x="839.09" y="185.0" width="2.0" height="6.2" fill="#F23645"/>
<line x1="842.16" y1="188.0" x2="842.16" y2="198.8" stroke="#F23645" stroke-width="1"/>
<rect x="841.16" y="191.2" width="2.0" height="3.8" fill="#F23645"/>
<line x1="844.23" y1="191.3" x2="844.23" y2="195.6" stroke="#089981" stroke-width="1"/>
<rect x="843.23" y="193.0" width="2.0" height="2.0" fill="#089981"/>
<line x1="846.30" y1="185.0" x2="846.30" y2="193.9" stroke="#089981" stroke-width="1"/>
<rect x="845.30" y="185.0" width="2.0" height="8.0" fill="#089981"/>
<line x1="848.37" y1="184.1" x2="848.37" y2="196.5" stroke="#F23645" stroke-width="1"/>
<rect x="847.37" y="185.0" width="2.0" height="9.5" fill="#F23645"/>
<line x1="850.44" y1="189.2" x2="850.44" y2="221.0" stroke="#F23645" stroke-width="1"/>
<rect x="849.44" y="194.5" width="2.0" height="5.5" fill="#F23645"/>
<line x1="852.51" y1="196.4" x2="852.51" y2="205.0" stroke="#F23645" stroke-width="1"/>
<rect x="851.51" y="200.0" width="2.0" height="2.8" fill="#F23645"/>
<line x1="854.58" y1="201.9" x2="854.58" y2="203.0" stroke="#089981" stroke-width="1"/>
<rect x="853.58" y="202.0" width="2.0" height="0.8" fill="#089981"/>
<line x1="856.65" y1="199.6" x2="856.65" y2="202.3" stroke="#089981" stroke-width="1"/>
<rect x="855.65" y="201.2" width="2.0" height="0.8" fill="#089981"/>
<line x1="858.72" y1="196.1" x2="858.72" y2="203.2" stroke="#089981" stroke-width="1"/>
<rect x="857.72" y="198.4" width="2.0" height="2.8" fill="#089981"/>
<line x1="860.79" y1="192.2" x2="860.79" y2="200.5" stroke="#F23645" stroke-width="1"/>
<rect x="859.79" y="198.4" width="2.0" height="1.6" fill="#F23645"/>
<line x1="862.86" y1="198.4" x2="862.86" y2="201.5" stroke="#089981" stroke-width="1"/>
<rect x="861.86" y="199.7" width="2.0" height="0.8" fill="#089981"/>
<line x1="864.93" y1="193.8" x2="864.93" y2="200.3" stroke="#089981" stroke-width="1"/>
<rect x="863.93" y="194.1" width="2.0" height="5.6" fill="#089981"/>
<line x1="867.00" y1="190.3" x2="867.00" y2="194.2" stroke="#089981" stroke-width="1"/>
<rect x="866.00" y="193.0" width="2.0" height="1.1" fill="#089981"/>
<line x1="869.07" y1="190.9" x2="869.07" y2="199.7" stroke="#F23645" stroke-width="1"/>
<rect x="868.07" y="193.0" width="2.0" height="5.0" fill="#F23645"/>
<line x1="871.14" y1="197.4" x2="871.14" y2="207.4" stroke="#F23645" stroke-width="1"/>
<rect x="870.14" y="198.0" width="2.0" height="5.7" fill="#F23645"/>
<line x1="873.21" y1="202.0" x2="873.21" y2="206.0" stroke="#F23645" stroke-width="1"/>
<rect x="872.21" y="203.7" width="2.0" height="1.3" fill="#F23645"/>
<line x1="875.28" y1="202.7" x2="875.28" y2="247.3" stroke="#F23645" stroke-width="1"/>
<rect x="874.28" y="205.0" width="2.0" height="40.0" fill="#F23645"/>
<line x1="877.35" y1="227.5" x2="877.35" y2="250.1" stroke="#089981" stroke-width="1"/>
<rect x="876.35" y="232.0" width="2.0" height="13.0" fill="#089981"/>
<line x1="879.42" y1="229.3" x2="879.42" y2="233.6" stroke="#089981" stroke-width="1"/>
<rect x="878.42" y="229.4" width="2.0" height="2.6" fill="#089981"/>
<line x1="881.49" y1="216.6" x2="881.49" y2="231.7" stroke="#089981" stroke-width="1"/>
<rect x="880.49" y="220.0" width="2.0" height="9.4" fill="#089981"/>
<line x1="883.56" y1="216.5" x2="883.56" y2="224.6" stroke="#F23645" stroke-width="1"/>
<rect x="882.56" y="220.0" width="2.0" height="0.9" fill="#F23645"/>
<line x1="885.63" y1="219.1" x2="885.63" y2="223.9" stroke="#F23645" stroke-width="1"/>
<rect x="884.63" y="220.9" width="2.0" height="1.7" fill="#F23645"/>
<line x1="887.70" y1="218.5" x2="887.70" y2="225.3" stroke="#F23645" stroke-width="1"/>
<rect x="886.70" y="222.6" width="2.0" height="2.4" fill="#F23645"/>
<line x1="889.77" y1="222.2" x2="889.77" y2="226.0" stroke="#089981" stroke-width="1"/>
<rect x="888.77" y="224.7" width="2.0" height="0.8" fill="#089981"/>
<line x1="891.84" y1="216.1" x2="891.84" y2="227.2" stroke="#089981" stroke-width="1"/>
<rect x="890.84" y="218.0" width="2.0" height="6.7" fill="#089981"/>
<line x1="893.91" y1="213.7" x2="893.91" y2="224.9" stroke="#F23645" stroke-width="1"/>
<rect x="892.91" y="218.0" width="2.0" height="5.1" fill="#F23645"/>
<line x1="895.98" y1="223.1" x2="895.98" y2="231.2" stroke="#F23645" stroke-width="1"/>
<rect x="894.98" y="223.1" width="2.0" height="1.9" fill="#F23645"/>
<line x1="898.05" y1="218.2" x2="898.05" y2="226.0" stroke="#089981" stroke-width="1"/>
<rect x="897.05" y="221.6" width="2.0" height="3.4" fill="#089981"/>
<line x1="900.12" y1="218.6" x2="900.12" y2="222.8" stroke="#089981" stroke-width="1"/>
<rect x="899.12" y="220.3" width="2.0" height="1.3" fill="#089981"/>
<line x1="902.19" y1="215.6" x2="902.19" y2="223.8" stroke="#F23645" stroke-width="1"/>
<rect x="901.19" y="220.3" width="2.0" height="1.7" fill="#F23645"/>
<line x1="904.26" y1="218.4" x2="904.26" y2="223.8" stroke="#F23645" stroke-width="1"/>
<rect x="903.26" y="222.0" width="2.0" height="1.5" fill="#F23645"/>
<line x1="906.33" y1="222.0" x2="906.33" y2="230.6" stroke="#F23645" stroke-width="1"/>
<rect x="905.33" y="223.5" width="2.0" height="6.5" fill="#F23645"/>
<line x1="908.40" y1="228.7" x2="908.40" y2="239.3" stroke="#F23645" stroke-width="1"/>
<rect x="907.40" y="230.0" width="2.0" height="5.5" fill="#F23645"/>
<line x1="910.47" y1="230.7" x2="910.47" y2="235.7" stroke="#089981" stroke-width="1"/>
<rect x="909.47" y="235.0" width="2.0" height="0.8" fill="#089981"/>
<line x1="912.54" y1="184.3" x2="912.54" y2="236.7" stroke="#089981" stroke-width="1"/>
<rect x="911.54" y="185.0" width="2.0" height="50.0" fill="#089981"/>
<line x1="914.61" y1="184.1" x2="914.61" y2="188.4" stroke="#F23645" stroke-width="1"/>
<rect x="913.61" y="185.0" width="2.0" height="1.0" fill="#F23645"/>
<line x1="916.68" y1="178.5" x2="916.68" y2="187.9" stroke="#089981" stroke-width="1"/>
<rect x="915.68" y="184.7" width="2.0" height="1.3" fill="#089981"/>
<line x1="918.75" y1="174.9" x2="918.75" y2="189.5" stroke="#089981" stroke-width="1"/>
<rect x="917.75" y="175.9" width="2.0" height="8.7" fill="#089981"/>
<line x1="920.82" y1="169.1" x2="920.82" y2="176.2" stroke="#089981" stroke-width="1"/>
<rect x="919.82" y="175.0" width="2.0" height="0.9" fill="#089981"/>
<line x1="922.89" y1="169.9" x2="922.89" y2="178.5" stroke="#089981" stroke-width="1"/>
<rect x="921.89" y="170.0" width="2.0" height="5.0" fill="#089981"/>
<line x1="924.96" y1="159.8" x2="924.96" y2="173.4" stroke="#089981" stroke-width="1"/>
<rect x="923.96" y="160.0" width="2.0" height="10.0" fill="#089981"/>
<line x1="927.03" y1="156.0" x2="927.03" y2="161.4" stroke="#089981" stroke-width="1"/>
<rect x="926.03" y="156.2" width="2.0" height="3.8" fill="#089981"/>
<line x1="929.10" y1="144.9" x2="929.10" y2="157.1" stroke="#089981" stroke-width="1"/>
<rect x="928.10" y="145.0" width="2.0" height="11.2" fill="#089981"/>
<line x1="931.17" y1="139.6" x2="931.17" y2="149.4" stroke="#089981" stroke-width="1"/>
<rect x="930.17" y="142.2" width="2.0" height="2.8" fill="#089981"/>
<line x1="933.24" y1="135.0" x2="933.24" y2="147.9" stroke="#089981" stroke-width="1"/>
<rect x="932.24" y="137.0" width="2.0" height="5.2" fill="#089981"/>
<line x1="935.31" y1="110.4" x2="935.31" y2="139.4" stroke="#089981" stroke-width="1"/>
<rect x="934.31" y="111.0" width="2.0" height="26.0" fill="#089981"/>
<line x1="937.38" y1="107.9" x2="937.38" y2="125.4" stroke="#F23645" stroke-width="1"/>
<rect x="936.38" y="111.0" width="2.0" height="13.3" fill="#F23645"/>
<line x1="939.45" y1="123.4" x2="939.45" y2="164.0" stroke="#F23645" stroke-width="1"/>
<rect x="938.45" y="124.3" width="2.0" height="15.7" fill="#F23645"/>
<line x1="941.52" y1="124.6" x2="941.52" y2="144.5" stroke="#089981" stroke-width="1"/>
<rect x="940.52" y="125.0" width="2.0" height="15.0" fill="#089981"/>
<line x1="943.59" y1="122.9" x2="943.59" y2="127.4" stroke="#F23645" stroke-width="1"/>
<rect x="942.59" y="125.0" width="2.0" height="1.9" fill="#F23645"/>
<line x1="945.66" y1="126.5" x2="945.66" y2="128.4" stroke="#F23645" stroke-width="1"/>
<rect x="944.66" y="126.9" width="2.0" height="1.1" fill="#F23645"/>
<line x1="947.73" y1="122.0" x2="947.73" y2="130.3" stroke="#089981" stroke-width="1"/>
<rect x="946.73" y="122.1" width="2.0" height="5.9" fill="#089981"/>
<line x1="949.80" y1="121.7" x2="949.80" y2="129.7" stroke="#089981" stroke-width="1"/>
<rect x="948.80" y="122.0" width="2.0" height="0.8" fill="#089981"/>
<line x1="951.87" y1="108.1" x2="951.87" y2="124.8" stroke="#089981" stroke-width="1"/>
<rect x="950.87" y="108.2" width="2.0" height="13.8" fill="#089981"/>
<line x1="953.94" y1="94.0" x2="953.94" y2="110.1" stroke="#089981" stroke-width="1"/>
<rect x="952.94" y="102.0" width="2.0" height="6.2" fill="#089981"/>
<line x1="956.01" y1="101.5" x2="956.01" y2="111.9" stroke="#F23645" stroke-width="1"/>
<rect x="955.01" y="102.0" width="2.0" height="3.0" fill="#F23645"/>
<line x1="958.08" y1="101.7" x2="958.08" y2="140.0" stroke="#F23645" stroke-width="1"/>
<rect x="957.08" y="105.0" width="2.0" height="13.0" fill="#F23645"/>
<line x1="960.15" y1="113.5" x2="960.15" y2="132.8" stroke="#F23645" stroke-width="1"/>
<rect x="959.15" y="118.0" width="2.0" height="7.2" fill="#F23645"/>
<line x1="962.22" y1="119.1" x2="962.22" y2="126.4" stroke="#089981" stroke-width="1"/>
<rect x="961.22" y="125.0" width="2.0" height="0.8" fill="#089981"/>
<line x1="964.29" y1="123.0" x2="964.29" y2="132.1" stroke="#F23645" stroke-width="1"/>
<rect x="963.29" y="125.0" width="2.0" height="1.2" fill="#F23645"/>
<line x1="966.36" y1="120.3" x2="966.36" y2="128.1" stroke="#089981" stroke-width="1"/>
<rect x="965.36" y="125.0" width="2.0" height="1.2" fill="#089981"/>
<line x1="968.43" y1="122.5" x2="968.43" y2="128.9" stroke="#F23645" stroke-width="1"/>
<rect x="967.43" y="125.0" width="2.0" height="2.7" fill="#F23645"/>
<line x1="970.50" y1="126.7" x2="970.50" y2="134.3" stroke="#F23645" stroke-width="1"/>
<rect x="969.50" y="127.7" width="2.0" height="2.3" fill="#F23645"/>
<line x1="972.57" y1="123.8" x2="972.57" y2="143.3" stroke="#F23645" stroke-width="1"/>
<rect x="971.57" y="130.0" width="2.0" height="10.0" fill="#F23645"/>
<line x1="974.64" y1="139.5" x2="974.64" y2="141.5" stroke="#F23645" stroke-width="1"/>
<rect x="973.64" y="140.0" width="2.0" height="1.0" fill="#F23645"/>
<line x1="976.71" y1="129.2" x2="976.71" y2="145.5" stroke="#089981" stroke-width="1"/>
<rect x="975.71" y="135.0" width="2.0" height="6.0" fill="#089981"/>
<line x1="978.78" y1="130.1" x2="978.78" y2="136.5" stroke="#089981" stroke-width="1"/>
<rect x="977.78" y="131.1" width="2.0" height="3.9" fill="#089981"/>
<line x1="980.85" y1="130.2" x2="980.85" y2="131.5" stroke="#F23645" stroke-width="1"/>
<rect x="979.85" y="131.1" width="2.0" height="0.8" fill="#F23645"/>
<line x1="982.92" y1="123.4" x2="982.92" y2="135.6" stroke="#089981" stroke-width="1"/>
<rect x="981.92" y="125.0" width="2.0" height="6.3" fill="#089981"/>
<line x1="984.99" y1="116.3" x2="984.99" y2="130.0" stroke="#089981" stroke-width="1"/>
<rect x="983.99" y="118.0" width="2.0" height="7.0" fill="#089981"/>
<line x1="987.06" y1="113.7" x2="987.06" y2="119.7" stroke="#089981" stroke-width="1"/>
<rect x="986.06" y="117.6" width="2.0" height="0.8" fill="#089981"/>
<line x1="989.13" y1="108.1" x2="989.13" y2="122.1" stroke="#089981" stroke-width="1"/>
<rect x="988.13" y="112.0" width="2.0" height="5.6" fill="#089981"/>
<line x1="991.20" y1="103.3" x2="991.20" y2="118.2" stroke="#089981" stroke-width="1"/>
<rect x="990.20" y="106.2" width="2.0" height="5.8" fill="#089981"/>
<line x1="993.27" y1="99.1" x2="993.27" y2="108.8" stroke="#089981" stroke-width="1"/>
<rect x="992.27" y="105.0" width="2.0" height="1.2" fill="#089981"/>
<line x1="995.34" y1="98.3" x2="995.34" y2="119.0" stroke="#F23645" stroke-width="1"/>
<rect x="994.34" y="105.0" width="2.0" height="10.0" fill="#F23645"/>
<line x1="997.41" y1="108.8" x2="997.41" y2="116.4" stroke="#089981" stroke-width="1"/>
<rect x="996.41" y="110.5" width="2.0" height="4.5" fill="#089981"/>
<line x1="999.48" y1="109.3" x2="999.48" y2="111.0" stroke="#089981" stroke-width="1"/>
<rect x="998.48" y="110.0" width="2.0" height="0.8" fill="#089981"/>
<line x1="1001.55" y1="103.2" x2="1001.55" y2="114.8" stroke="#089981" stroke-width="1"/>
<rect x="1000.55" y="106.7" width="2.0" height="3.3" fill="#089981"/>
<line x1="1003.62" y1="100.5" x2="1003.62" y2="111.2" stroke="#089981" stroke-width="1"/>
<rect x="1002.62" y="104.6" width="2.0" height="2.1" fill="#089981"/>
<line x1="1005.69" y1="102.7" x2="1005.69" y2="107.0" stroke="#F23645" stroke-width="1"/>
<rect x="1004.69" y="104.6" width="2.0" height="0.8" fill="#F23645"/>
<line x1="1007.76" y1="99.5" x2="1007.76" y2="105.9" stroke="#089981" stroke-width="1"/>
<rect x="1006.76" y="100.7" width="2.0" height="4.3" fill="#089981"/>
<line x1="1009.83" y1="94.9" x2="1009.83" y2="102.9" stroke="#089981" stroke-width="1"/>
<rect x="1008.83" y="95.0" width="2.0" height="5.7" fill="#089981"/>
<line x1="1011.90" y1="88.6" x2="1011.90" y2="98.1" stroke="#089981" stroke-width="1"/>
<rect x="1010.90" y="90.0" width="2.0" height="5.0" fill="#089981"/>
<line x1="1013.97" y1="84.0" x2="1013.97" y2="93.3" stroke="#F23645" stroke-width="1"/>
<rect x="1012.97" y="90.0" width="2.0" height="3.0" fill="#F23645"/>
<line x1="1016.04" y1="91.9" x2="1016.04" y2="98.1" stroke="#F23645" stroke-width="1"/>
<rect x="1015.04" y="93.0" width="2.0" height="0.8" fill="#F23645"/>
<line x1="1018.11" y1="91.1" x2="1018.11" y2="99.1" stroke="#F23645" stroke-width="1"/>
<rect x="1017.11" y="93.0" width="2.0" height="4.0" fill="#F23645"/>
<line x1="1020.18" y1="93.2" x2="1020.18" y2="106.2" stroke="#F23645" stroke-width="1"/>
<rect x="1019.18" y="97.0" width="2.0" height="8.3" fill="#F23645"/>
<line x1="1022.25" y1="102.6" x2="1022.25" y2="118.7" stroke="#F23645" stroke-width="1"/>
<rect x="1021.25" y="105.3" width="2.0" height="9.7" fill="#F23645"/>
<line x1="1024.32" y1="103.6" x2="1024.32" y2="115.7" stroke="#089981" stroke-width="1"/>
<rect x="1023.32" y="107.0" width="2.0" height="8.0" fill="#089981"/>
<line x1="1026.39" y1="99.8" x2="1026.39" y2="109.2" stroke="#089981" stroke-width="1"/>
<rect x="1025.39" y="105.0" width="2.0" height="2.0" fill="#089981"/>
<line x1="1028.46" y1="98.9" x2="1028.46" y2="109.2" stroke="#089981" stroke-width="1"/>
<rect x="1027.46" y="101.9" width="2.0" height="3.1" fill="#089981"/>
<line x1="1030.53" y1="89.8" x2="1030.53" y2="102.4" stroke="#089981" stroke-width="1"/>
<rect x="1029.53" y="92.0" width="2.0" height="9.9" fill="#089981"/>
<line x1="1032.60" y1="84.9" x2="1032.60" y2="93.1" stroke="#089981" stroke-width="1"/>
<rect x="1031.60" y="85.8" width="2.0" height="6.2" fill="#089981"/>
<line x1="1034.67" y1="81.1" x2="1034.67" y2="87.6" stroke="#089981" stroke-width="1"/>
<rect x="1033.67" y="82.0" width="2.0" height="3.8" fill="#089981"/>
<line x1="1036.74" y1="75.0" x2="1036.74" y2="92.0" stroke="#F23645" stroke-width="1"/>
<rect x="1035.74" y="82.0" width="2.0" height="10.0" fill="#F23645"/>
<line x1="1038.81" y1="91.3" x2="1038.81" y2="104.8" stroke="#F23645" stroke-width="1"/>
<rect x="1037.81" y="92.0" width="2.0" height="3.7" fill="#F23645"/>
<line x1="1040.88" y1="91.8" x2="1040.88" y2="100.1" stroke="#F23645" stroke-width="1"/>
<rect x="1039.88" y="95.7" width="2.0" height="4.3" fill="#F23645"/>
<line x1="1042.95" y1="94.1" x2="1042.95" y2="110.3" stroke="#F23645" stroke-width="1"/>
<rect x="1041.95" y="100.0" width="2.0" height="10.0" fill="#F23645"/>
<line x1="1045.02" y1="108.4" x2="1045.02" y2="125.6" stroke="#F23645" stroke-width="1"/>
<rect x="1044.02" y="110.0" width="2.0" height="12.0" fill="#F23645"/>
<line x1="1047.09" y1="118.4" x2="1047.09" y2="140.2" stroke="#F23645" stroke-width="1"/>
<rect x="1046.09" y="122.0" width="2.0" height="13.0" fill="#F23645"/>
<line x1="1049.16" y1="144.5" x2="1049.16" y2="236.0" stroke="#F23645" stroke-width="1"/>
<rect x="1048.16" y="145.0" width="2.0" height="83.0" fill="#F23645"/>
<line x1="1051.23" y1="227.5" x2="1051.23" y2="292.0" stroke="#F23645" stroke-width="1"/>
<rect x="1050.23" y="228.0" width="2.0" height="12.0" fill="#F23645"/>
<line x1="1053.30" y1="234.8" x2="1053.30" y2="267.0" stroke="#089981" stroke-width="1"/>
<rect x="1052.30" y="236.0" width="2.0" height="4.0" fill="#089981"/>
<line x1="1055.37" y1="232.3" x2="1055.37" y2="250.0" stroke="#F23645" stroke-width="1"/>
<rect x="1054.37" y="236.0" width="2.0" height="11.0" fill="#F23645"/>
<line x1="1057.44" y1="239.2" x2="1057.44" y2="249.9" stroke="#089981" stroke-width="1"/>
<rect x="1056.44" y="244.4" width="2.0" height="2.6" fill="#089981"/>
<line x1="7" y1="517.5" x2="1143" y2="517.5" stroke="#cdb3b7" stroke-width="1" stroke-dasharray="4 3" opacity="0.9"/>
<rect x="7.40" y="517.4" width="1.1" height="0.5" fill="#26A69A"/>
<rect x="9.47" y="517.4" width="1.1" height="0.5" fill="#26A69A"/>
<rect x="11.54" y="517.3" width="1.1" height="0.5" fill="#26A69A"/>
<rect x="13.61" y="517.2" width="1.1" height="0.5" fill="#26A69A"/>
<rect x="15.68" y="517.1" width="1.1" height="0.5" fill="#26A69A"/>
<rect x="17.75" y="517.1" width="1.1" height="0.5" fill="#26A69A"/>
<rect x="19.82" y="516.7" width="1.1" height="0.8" fill="#26A69A"/>
<rect x="21.89" y="515.4" width="1.1" height="2.1" fill="#26A69A"/>
<rect x="23.96" y="515.1" width="1.1" height="2.4" fill="#26A69A"/>
<rect x="26.03" y="514.8" width="1.1" height="2.7" fill="#26A69A"/>
<rect x="28.10" y="514.5" width="1.1" height="3.0" fill="#26A69A"/>
<rect x="30.17" y="514.2" width="1.1" height="3.3" fill="#26A69A"/>
<rect x="32.24" y="513.8" width="1.1" height="3.7" fill="#26A69A"/>
<rect x="34.31" y="513.5" width="1.1" height="4.0" fill="#26A69A"/>
<rect x="36.38" y="513.1" width="1.1" height="4.4" fill="#26A69A"/>
<rect x="38.45" y="512.7" width="1.1" height="4.8" fill="#26A69A"/>
<rect x="40.52" y="512.2" width="1.1" height="5.3" fill="#26A69A"/>
<rect x="42.59" y="511.8" width="1.1" height="5.7" fill="#26A69A"/>
<rect x="44.66" y="511.4" width="1.1" height="6.1" fill="#26A69A"/>
<rect x="46.73" y="511.5" width="1.1" height="6.0" fill="#B2DFDB"/>
<rect x="48.80" y="511.3" width="1.1" height="6.2" fill="#26A69A"/>
<rect x="50.87" y="504.9" width="1.1" height="12.6" fill="#26A69A"/>
<rect x="52.94" y="504.0" width="1.1" height="13.5" fill="#26A69A"/>
<rect x="55.01" y="503.1" width="1.1" height="14.4" fill="#26A69A"/>
<rect x="57.08" y="502.1" width="1.1" height="15.4" fill="#26A69A"/>
<rect x="59.15" y="501.2" width="1.1" height="16.3" fill="#26A69A"/>
<rect x="61.22" y="500.3" width="1.1" height="17.2" fill="#26A69A"/>
<rect x="63.29" y="504.6" width="1.1" height="12.9" fill="#B2DFDB"/>
<rect x="65.36" y="511.7" width="1.1" height="5.8" fill="#B2DFDB"/>
<rect x="67.43" y="517.0" width="1.1" height="0.5" fill="#B2DFDB"/>
<rect x="69.50" y="517.5" width="1.1" height="1.7" fill="#FF5252"/>
<rect x="71.57" y="517.5" width="1.1" height="3.2" fill="#FF5252"/>
<rect x="73.64" y="517.5" width="1.1" height="4.7" fill="#FF5252"/>
<rect x="75.71" y="517.5" width="1.1" height="6.1" fill="#FF5252"/>
<rect x="77.78" y="517.5" width="1.1" height="7.6" fill="#FF5252"/>
<rect x="79.85" y="517.5" width="1.1" height="9.0" fill="#FF5252"/>
<rect x="81.92" y="517.5" width="1.1" height="10.5" fill="#FF5252"/>
<rect x="83.99" y="517.5" width="1.1" height="11.9" fill="#FF5252"/>
<rect x="86.06" y="517.5" width="1.1" height="13.4" fill="#FF5252"/>
<rect x="88.13" y="517.5" width="1.1" height="14.8" fill="#FF5252"/>
<rect x="90.20" y="517.5" width="1.1" height="16.3" fill="#FF5252"/>
<rect x="92.27" y="517.5" width="1.1" height="17.8" fill="#FF5252"/>
<rect x="94.34" y="517.5" width="1.1" height="19.2" fill="#FF5252"/>
<rect x="96.41" y="517.5" width="1.1" height="19.1" fill="#FFCDD2"/>
<rect x="98.48" y="517.5" width="1.1" height="17.3" fill="#FFCDD2"/>
<rect x="100.55" y="517.5" width="1.1" height="15.4" fill="#FFCDD2"/>
<rect x="102.62" y="517.5" width="1.1" height="13.5" fill="#FFCDD2"/>
<rect x="104.69" y="517.5" width="1.1" height="11.6" fill="#FFCDD2"/>
<rect x="106.76" y="517.5" width="1.1" height="9.8" fill="#FFCDD2"/>
<rect x="108.83" y="517.5" width="1.1" height="7.9" fill="#FFCDD2"/>
<rect x="110.90" y="517.5" width="1.1" height="6.0" fill="#FFCDD2"/>
<rect x="112.97" y="517.5" width="1.1" height="4.1" fill="#FFCDD2"/>
<rect x="115.04" y="517.5" width="1.1" height="2.3" fill="#FFCDD2"/>
<rect x="117.11" y="517.5" width="1.1" height="2.0" fill="#FFCDD2"/>
<rect x="119.18" y="517.5" width="1.1" height="2.2" fill="#FF5252"/>
<rect x="121.25" y="516.7" width="1.1" height="0.8" fill="#26A69A"/>
<rect x="123.32" y="516.0" width="1.1" height="1.5" fill="#26A69A"/>
<rect x="125.39" y="516.0" width="1.1" height="1.5" fill="#26A69A"/>
<rect x="127.46" y="516.0" width="1.1" height="1.5" fill="#26A69A"/>
<rect x="129.53" y="516.0" width="1.1" height="1.5" fill="#B2DFDB"/>
<rect x="131.60" y="516.8" width="1.1" height="0.7" fill="#B2DFDB"/>
<rect x="133.67" y="517.5" width="1.1" height="0.7" fill="#FF5252"/>
<rect x="135.74" y="517.5" width="1.1" height="3.0" fill="#FF5252"/>
<rect x="137.81" y="517.5" width="1.1" height="3.0" fill="#FF5252"/>
<rect x="139.88" y="517.5" width="1.1" height="2.4" fill="#FFCDD2"/>
<rect x="141.95" y="516.0" width="1.1" height="1.5" fill="#26A69A"/>
<rect x="144.02" y="514.5" width="1.1" height="3.0" fill="#26A69A"/>
<rect x="146.09" y="514.5" width="1.1" height="3.0" fill="#26A69A"/>
<rect x="148.16" y="514.5" width="1.1" height="3.0" fill="#26A69A"/>
<rect x="150.23" y="514.9" width="1.1" height="2.6" fill="#B2DFDB"/>
<rect x="152.30" y="515.9" width="1.1" height="1.6" fill="#B2DFDB"/>
<rect x="154.37" y="517.0" width="1.1" height="0.5" fill="#B2DFDB"/>
<rect x="156.44" y="515.6" width="1.1" height="1.9" fill="#26A69A"/>
<rect x="158.51" y="514.2" width="1.1" height="3.3" fill="#26A69A"/>
<rect x="160.58" y="513.4" width="1.1" height="4.1" fill="#26A69A"/>
<rect x="162.65" y="513.3" width="1.1" height="4.2" fill="#26A69A"/>
<rect x="164.72" y="513.1" width="1.1" height="4.4" fill="#26A69A"/>
<rect x="166.79" y="513.0" width="1.1" height="4.5" fill="#26A69A"/>
<rect x="168.86" y="512.9" width="1.1" height="4.6" fill="#26A69A"/>
<rect x="170.93" y="512.7" width="1.1" height="4.8" fill="#26A69A"/>
<rect x="173.00" y="512.6" width="1.1" height="4.9" fill="#26A69A"/>
<rect x="175.07" y="512.7" width="1.1" height="4.8" fill="#B2DFDB"/>
<rect x="177.14" y="513.3" width="1.1" height="4.2" fill="#B2DFDB"/>
<rect x="179.21" y="513.9" width="1.1" height="3.6" fill="#B2DFDB"/>
<rect x="181.28" y="513.8" width="1.1" height="3.7" fill="#26A69A"/>
<rect x="183.35" y="513.5" width="1.1" height="4.0" fill="#26A69A"/>
<rect x="185.42" y="513.3" width="1.1" height="4.2" fill="#26A69A"/>
<rect x="187.49" y="513.0" width="1.1" height="4.5" fill="#26A69A"/>
<rect x="189.56" y="512.7" width="1.1" height="4.8" fill="#26A69A"/>
<rect x="191.63" y="512.4" width="1.1" height="5.1" fill="#26A69A"/>
<rect x="193.70" y="511.8" width="1.1" height="5.7" fill="#26A69A"/>
<rect x="195.77" y="511.2" width="1.1" height="6.3" fill="#26A69A"/>
<rect x="197.84" y="510.5" width="1.1" height="7.0" fill="#26A69A"/>
<rect x="199.91" y="510.0" width="1.1" height="7.5" fill="#26A69A"/>
<rect x="201.98" y="510.2" width="1.1" height="7.3" fill="#B2DFDB"/>
<rect x="204.05" y="510.3" width="1.1" height="7.2" fill="#B2DFDB"/>
<rect x="206.12" y="510.5" width="1.1" height="7.0" fill="#B2DFDB"/>
<rect x="208.19" y="512.4" width="1.1" height="5.1" fill="#B2DFDB"/>
<rect x="210.26" y="514.7" width="1.1" height="2.8" fill="#B2DFDB"/>
<rect x="212.33" y="516.9" width="1.1" height="0.6" fill="#B2DFDB"/>
<rect x="214.40" y="517.5" width="1.1" height="1.4" fill="#FF5252"/>
<rect x="216.47" y="517.5" width="1.1" height="1.2" fill="#FFCDD2"/>
<rect x="218.54" y="517.5" width="1.1" height="0.6" fill="#FFCDD2"/>
<rect x="220.61" y="517.3" width="1.1" height="0.5" fill="#26A69A"/>
<rect x="222.68" y="516.6" width="1.1" height="0.9" fill="#26A69A"/>
<rect x="224.75" y="516.0" width="1.1" height="1.5" fill="#26A69A"/>
<rect x="226.82" y="516.0" width="1.1" height="1.5" fill="#26A69A"/>
<rect x="228.89" y="516.0" width="1.1" height="1.5" fill="#26A69A"/>
<rect x="230.96" y="516.0" width="1.1" height="1.5" fill="#26A69A"/>
<rect x="233.03" y="516.0" width="1.1" height="1.5" fill="#26A69A"/>
<rect x="235.10" y="516.0" width="1.1" height="1.5" fill="#26A69A"/>
<rect x="237.17" y="516.0" width="1.1" height="1.5" fill="#26A69A"/>
<rect x="239.24" y="516.0" width="1.1" height="1.5" fill="#26A69A"/>
<rect x="241.31" y="516.7" width="1.1" height="0.8" fill="#B2DFDB"/>
<rect x="243.38" y="517.5" width="1.1" height="0.5" fill="#B2DFDB"/>
<rect x="245.45" y="517.5" width="1.1" height="1.6" fill="#FF5252"/>
<rect x="247.52" y="517.5" width="1.1" height="1.7" fill="#FF5252"/>
<rect x="249.59" y="517.5" width="1.1" height="1.9" fill="#FF5252"/>
<rect x="251.66" y="517.5" width="1.1" height="2.1" fill="#FF5252"/>
<rect x="253.73" y="517.5" width="1.1" height="2.2" fill="#FF5252"/>
<rect x="255.80" y="517.5" width="1.1" height="2.4" fill="#FF5252"/>
<rect x="257.87" y="517.5" width="1.1" height="2.6" fill="#FF5252"/>
<rect x="259.94" y="517.5" width="1.1" height="2.7" fill="#FF5252"/>
<rect x="262.01" y="517.5" width="1.1" height="2.9" fill="#FF5252"/>
<rect x="264.08" y="517.5" width="1.1" height="3.1" fill="#FF5252"/>
<rect x="266.15" y="517.5" width="1.1" height="3.2" fill="#FF5252"/>
<rect x="268.22" y="517.5" width="1.1" height="3.4" fill="#FF5252"/>
<rect x="270.29" y="517.5" width="1.1" height="2.8" fill="#FFCDD2"/>
<rect x="272.36" y="517.5" width="1.1" height="1.0" fill="#FFCDD2"/>
<rect x="274.43" y="516.0" width="1.1" height="1.5" fill="#26A69A"/>
<rect x="276.50" y="515.9" width="1.1" height="1.6" fill="#26A69A"/>
<rect x="278.57" y="515.8" width="1.1" height="1.7" fill="#26A69A"/>
<rect x="280.64" y="515.8" width="1.1" height="1.7" fill="#26A69A"/>
<rect x="282.71" y="515.7" width="1.1" height="1.8" fill="#26A69A"/>
<rect x="284.78" y="515.6" width="1.1" height="1.9" fill="#26A69A"/>
<rect x="286.85" y="515.5" width="1.1" height="2.0" fill="#26A69A"/>
<rect x="288.92" y="515.4" width="1.1" height="2.1" fill="#26A69A"/>
<rect x="290.99" y="515.3" width="1.1" height="2.2" fill="#26A69A"/>
<rect x="293.06" y="515.3" width="1.1" height="2.2" fill="#26A69A"/>
<rect x="295.13" y="515.2" width="1.1" height="2.3" fill="#26A69A"/>
<rect x="297.20" y="515.1" width="1.1" height="2.4" fill="#26A69A"/>
<rect x="299.27" y="515.0" width="1.1" height="2.5" fill="#26A69A"/>
<rect x="301.34" y="515.4" width="1.1" height="2.1" fill="#B2DFDB"/>
<rect x="303.41" y="515.8" width="1.1" height="1.7" fill="#B2DFDB"/>
<rect x="305.48" y="516.2" width="1.1" height="1.3" fill="#B2DFDB"/>
<rect x="307.55" y="516.6" width="1.1" height="0.9" fill="#B2DFDB"/>
<rect x="309.62" y="517.4" width="1.1" height="0.5" fill="#B2DFDB"/>
<rect x="311.69" y="517.5" width="1.1" height="4.0" fill="#FF5252"/>
<rect x="313.76" y="517.5" width="1.1" height="4.3" fill="#FF5252"/>
<rect x="315.83" y="517.5" width="1.1" height="4.5" fill="#FF5252"/>
<rect x="317.90" y="517.5" width="1.1" height="4.8" fill="#FF5252"/>
<rect x="319.97" y="517.5" width="1.1" height="4.5" fill="#FFCDD2"/>
<rect x="322.04" y="517.5" width="1.1" height="2.4" fill="#FFCDD2"/>
<rect x="324.11" y="517.5" width="1.1" height="1.9" fill="#FFCDD2"/>
<rect x="326.18" y="517.5" width="1.1" height="4.6" fill="#FF5252"/>
<rect x="328.25" y="517.5" width="1.1" height="5.0" fill="#FF5252"/>
<rect x="330.32" y="517.5" width="1.1" height="4.3" fill="#FFCDD2"/>
<rect x="332.39" y="517.5" width="1.1" height="2.6" fill="#FFCDD2"/>
<rect x="334.46" y="517.5" width="1.1" height="1.0" fill="#FFCDD2"/>
<rect x="336.53" y="517.5" width="1.1" height="0.5" fill="#FFCDD2"/>
<rect x="338.60" y="517.3" width="1.1" height="0.5" fill="#26A69A"/>
<rect x="340.67" y="516.6" width="1.1" height="0.9" fill="#26A69A"/>
<rect x="342.74" y="516.0" width="1.1" height="1.5" fill="#26A69A"/>
<rect x="344.81" y="515.5" width="1.1" height="2.0" fill="#26A69A"/>
<rect x="346.88" y="515.4" width="1.1" height="2.1" fill="#26A69A"/>
<rect x="348.95" y="515.3" width="1.1" height="2.2" fill="#26A69A"/>
<rect x="351.02" y="515.2" width="1.1" height="2.3" fill="#26A69A"/>
<rect x="353.09" y="515.1" width="1.1" height="2.4" fill="#26A69A"/>
<rect x="355.16" y="515.1" width="1.1" height="2.4" fill="#26A69A"/>
<rect x="357.23" y="515.4" width="1.1" height="2.1" fill="#B2DFDB"/>
<rect x="359.30" y="516.4" width="1.1" height="1.1" fill="#B2DFDB"/>
<rect x="361.37" y="517.5" width="1.1" height="0.5" fill="#B2DFDB"/>
<rect x="363.44" y="517.5" width="1.1" height="0.5" fill="#FF5252"/>
<rect x="365.51" y="517.5" width="1.1" height="0.5" fill="#FF5252"/>
<rect x="367.58" y="517.5" width="1.1" height="0.6" fill="#FF5252"/>
<rect x="369.65" y="517.5" width="1.1" height="0.8" fill="#FF5252"/>
<rect x="371.72" y="517.5" width="1.1" height="1.0" fill="#FF5252"/>
<rect x="373.79" y="517.5" width="1.1" height="1.2" fill="#FF5252"/>
<rect x="375.86" y="517.5" width="1.1" height="1.4" fill="#FF5252"/>
<rect x="377.93" y="517.5" width="1.1" height="1.6" fill="#FF5252"/>
<rect x="380.00" y="517.5" width="1.1" height="1.9" fill="#FF5252"/>
<rect x="382.07" y="517.5" width="1.1" height="2.1" fill="#FF5252"/>
<rect x="384.14" y="517.5" width="1.1" height="2.3" fill="#FF5252"/>
<rect x="386.21" y="517.5" width="1.1" height="2.5" fill="#FF5252"/>
<rect x="388.28" y="517.5" width="1.1" height="2.5" fill="#FF5252"/>
<rect x="390.35" y="517.5" width="1.1" height="2.5" fill="#FF5252"/>
<rect x="392.42" y="517.5" width="1.1" height="2.5" fill="#FF5252"/>
<rect x="394.49" y="517.5" width="1.1" height="2.5" fill="#FF5252"/>
<rect x="396.56" y="517.5" width="1.1" height="2.5" fill="#FF5252"/>
<rect x="398.63" y="517.5" width="1.1" height="2.5" fill="#FF5252"/>
<rect x="400.70" y="517.5" width="1.1" height="1.9" fill="#FFCDD2"/>
<rect x="402.77" y="517.5" width="1.1" height="0.8" fill="#FFCDD2"/>
<rect x="404.84" y="517.3" width="1.1" height="0.5" fill="#26A69A"/>
<rect x="406.91" y="516.0" width="1.1" height="1.5" fill="#26A69A"/>
<rect x="408.98" y="514.8" width="1.1" height="2.7" fill="#26A69A"/>
<rect x="411.05" y="514.3" width="1.1" height="3.2" fill="#26A69A"/>
<rect x="413.12" y="514.1" width="1.1" height="3.4" fill="#26A69A"/>
<rect x="415.19" y="513.9" width="1.1" height="3.6" fill="#26A69A"/>
<rect x="417.26" y="513.8" width="1.1" height="3.7" fill="#26A69A"/>
<rect x="419.33" y="514.0" width="1.1" height="3.5" fill="#B2DFDB"/>
<rect x="421.40" y="514.2" width="1.1" height="3.3" fill="#B2DFDB"/>
<rect x="423.47" y="514.4" width="1.1" height="3.1" fill="#B2DFDB"/>
<rect x="425.54" y="514.6" width="1.1" height="2.9" fill="#B2DFDB"/>
<rect x="427.61" y="514.7" width="1.1" height="2.8" fill="#B2DFDB"/>
<rect x="429.68" y="514.9" width="1.1" height="2.6" fill="#B2DFDB"/>
<rect x="431.75" y="515.1" width="1.1" height="2.4" fill="#B2DFDB"/>
<rect x="433.82" y="516.2" width="1.1" height="1.3" fill="#B2DFDB"/>
<rect x="435.89" y="517.2" width="1.1" height="0.5" fill="#B2DFDB"/>
<rect x="437.96" y="517.5" width="1.1" height="0.5" fill="#FF5252"/>
<rect x="440.03" y="517.5" width="1.1" height="1.0" fill="#FF5252"/>
<rect x="442.10" y="517.5" width="1.1" height="1.0" fill="#FF5252"/>
<rect x="444.17" y="517.5" width="1.1" height="1.0" fill="#FF5252"/>
<rect x="446.24" y="517.5" width="1.1" height="1.0" fill="#FF5252"/>
<rect x="448.31" y="517.5" width="1.1" height="1.0" fill="#FF5252"/>
<rect x="450.38" y="517.5" width="1.1" height="1.0" fill="#FF5252"/>
<rect x="452.45" y="517.5" width="1.1" height="1.0" fill="#FF5252"/>
<rect x="454.52" y="517.5" width="1.1" height="1.0" fill="#FFCDD2"/>
<rect x="456.59" y="517.5" width="1.1" height="0.6" fill="#FFCDD2"/>
<rect x="458.66" y="517.5" width="1.1" height="0.5" fill="#FFCDD2"/>
<rect x="460.73" y="517.5" width="1.1" height="0.5" fill="#FF5252"/>
<rect x="462.80" y="517.5" width="1.1" height="0.5" fill="#FF5252"/>
<rect x="464.87" y="517.5" width="1.1" height="0.8" fill="#FF5252"/>
<rect x="466.94" y="517.5" width="1.1" height="1.1" fill="#FF5252"/>
<rect x="469.01" y="517.5" width="1.1" height="1.4" fill="#FF5252"/>
<rect x="471.08" y="517.5" width="1.1" height="1.5" fill="#FF5252"/>
<rect x="473.15" y="517.5" width="1.1" height="1.5" fill="#FF5252"/>
<rect x="475.22" y="517.5" width="1.1" height="1.5" fill="#FF5252"/>
<rect x="477.29" y="517.5" width="1.1" height="1.5" fill="#FF5252"/>
<rect x="479.36" y="517.5" width="1.1" height="1.5" fill="#FF5252"/>
<rect x="481.43" y="517.5" width="1.1" height="1.5" fill="#FF5252"/>
<rect x="483.50" y="517.5" width="1.1" height="1.5" fill="#FF5252"/>
<rect x="485.57" y="517.5" width="1.1" height="1.3" fill="#FFCDD2"/>
<rect x="487.64" y="517.5" width="1.1" height="1.0" fill="#FFCDD2"/>
<rect x="489.71" y="517.5" width="1.1" height="0.7" fill="#FFCDD2"/>
<rect x="491.78" y="517.5" width="1.1" height="0.5" fill="#FFCDD2"/>
<rect x="493.85" y="517.5" width="1.1" height="0.5" fill="#FFCDD2"/>
<rect x="495.92" y="516.8" width="1.1" height="0.7" fill="#26A69A"/>
<rect x="497.99" y="515.7" width="1.1" height="1.8" fill="#26A69A"/>
<rect x="500.06" y="515.0" width="1.1" height="2.5" fill="#26A69A"/>
<rect x="502.13" y="514.8" width="1.1" height="2.7" fill="#26A69A"/>
<rect x="504.20" y="514.7" width="1.1" height="2.8" fill="#26A69A"/>
<rect x="506.27" y="514.6" width="1.1" height="2.9" fill="#26A69A"/>
<rect x="508.34" y="514.4" width="1.1" height="3.1" fill="#26A69A"/>
<rect x="510.41" y="514.3" width="1.1" height="3.2" fill="#26A69A"/>
<rect x="512.48" y="514.2" width="1.1" height="3.3" fill="#26A69A"/>
<rect x="514.55" y="514.1" width="1.1" height="3.4" fill="#26A69A"/>
<rect x="516.62" y="513.9" width="1.1" height="3.6" fill="#26A69A"/>
<rect x="518.69" y="513.8" width="1.1" height="3.7" fill="#26A69A"/>
<rect x="520.76" y="514.1" width="1.1" height="3.4" fill="#B2DFDB"/>
<rect x="522.83" y="514.7" width="1.1" height="2.8" fill="#B2DFDB"/>
<rect x="524.90" y="515.2" width="1.1" height="2.3" fill="#B2DFDB"/>
<rect x="526.97" y="515.8" width="1.1" height="1.7" fill="#B2DFDB"/>
<rect x="529.04" y="516.4" width="1.1" height="1.1" fill="#B2DFDB"/>
<rect x="531.11" y="516.3" width="1.1" height="1.2" fill="#26A69A"/>
<rect x="533.18" y="516.1" width="1.1" height="1.4" fill="#26A69A"/>
<rect x="535.25" y="515.9" width="1.1" height="1.6" fill="#26A69A"/>
<rect x="537.32" y="515.7" width="1.1" height="1.8" fill="#26A69A"/>
<rect x="539.39" y="515.5" width="1.1" height="2.0" fill="#26A69A"/>
<rect x="541.46" y="515.6" width="1.1" height="1.9" fill="#B2DFDB"/>
<rect x="543.53" y="515.8" width="1.1" height="1.7" fill="#B2DFDB"/>
<rect x="545.60" y="515.9" width="1.1" height="1.6" fill="#B2DFDB"/>
<rect x="547.67" y="516.1" width="1.1" height="1.4" fill="#B2DFDB"/>
<rect x="549.74" y="517.1" width="1.1" height="0.5" fill="#B2DFDB"/>
<rect x="551.81" y="517.5" width="1.1" height="8.1" fill="#FF5252"/>
<rect x="553.88" y="517.5" width="1.1" height="8.7" fill="#FF5252"/>
<rect x="555.95" y="517.5" width="1.1" height="9.3" fill="#FF5252"/>
<rect x="558.02" y="517.5" width="1.1" height="9.9" fill="#FF5252"/>
<rect x="560.09" y="517.5" width="1.1" height="9.1" fill="#FFCDD2"/>
<rect x="562.16" y="517.5" width="1.1" height="7.9" fill="#FFCDD2"/>
<rect x="564.23" y="517.5" width="1.1" height="6.7" fill="#FFCDD2"/>
<rect x="566.30" y="517.5" width="1.1" height="5.6" fill="#FFCDD2"/>
<rect x="568.37" y="517.5" width="1.1" height="4.4" fill="#FFCDD2"/>
<rect x="570.44" y="517.5" width="1.1" height="3.3" fill="#FFCDD2"/>
<rect x="572.51" y="517.5" width="1.1" height="2.1" fill="#FFCDD2"/>
<rect x="574.58" y="517.5" width="1.1" height="0.8" fill="#FFCDD2"/>
<rect x="576.65" y="515.5" width="1.1" height="2.0" fill="#26A69A"/>
<rect x="578.72" y="515.4" width="1.1" height="2.1" fill="#26A69A"/>
<rect x="580.79" y="515.3" width="1.1" height="2.2" fill="#26A69A"/>
<rect x="582.86" y="515.3" width="1.1" height="2.2" fill="#26A69A"/>
<rect x="584.93" y="515.2" width="1.1" height="2.3" fill="#26A69A"/>
<rect x="587.00" y="515.1" width="1.1" height="2.4" fill="#26A69A"/>
<rect x="589.07" y="515.0" width="1.1" height="2.5" fill="#26A69A"/>
<rect x="591.14" y="515.5" width="1.1" height="2.0" fill="#B2DFDB"/>
<rect x="593.21" y="516.1" width="1.1" height="1.4" fill="#B2DFDB"/>
<rect x="595.28" y="516.3" width="1.1" height="1.2" fill="#B2DFDB"/>
<rect x="597.35" y="515.6" width="1.1" height="1.9" fill="#26A69A"/>
<rect x="599.42" y="515.0" width="1.1" height="2.5" fill="#26A69A"/>
<rect x="601.49" y="515.0" width="1.1" height="2.5" fill="#26A69A"/>
<rect x="603.56" y="515.0" width="1.1" height="2.5" fill="#26A69A"/>
<rect x="605.63" y="515.0" width="1.1" height="2.5" fill="#26A69A"/>
<rect x="607.70" y="515.0" width="1.1" height="2.5" fill="#26A69A"/>
<rect x="609.77" y="515.0" width="1.1" height="2.5" fill="#26A69A"/>
<rect x="611.84" y="515.0" width="1.1" height="2.5" fill="#26A69A"/>
<rect x="613.91" y="515.0" width="1.1" height="2.5" fill="#26A69A"/>
<rect x="615.98" y="515.0" width="1.1" height="2.5" fill="#26A69A"/>
<rect x="618.05" y="517.0" width="1.1" height="0.5" fill="#B2DFDB"/>
<rect x="620.12" y="517.5" width="1.1" height="1.5" fill="#FF5252"/>
<rect x="622.19" y="517.5" width="1.1" height="1.5" fill="#FF5252"/>
<rect x="624.26" y="517.5" width="1.1" height="1.5" fill="#FF5252"/>
<rect x="626.33" y="517.5" width="1.1" height="1.5" fill="#FF5252"/>
<rect x="628.40" y="517.5" width="1.1" height="0.5" fill="#FFCDD2"/>
<rect x="630.47" y="517.4" width="1.1" height="0.5" fill="#26A69A"/>
<rect x="632.54" y="517.2" width="1.1" height="0.5" fill="#26A69A"/>
<rect x="634.61" y="517.0" width="1.1" height="0.5" fill="#26A69A"/>
<rect x="636.68" y="516.8" width="1.1" height="0.7" fill="#26A69A"/>
<rect x="638.75" y="516.6" width="1.1" height="0.9" fill="#26A69A"/>
<rect x="640.82" y="516.4" width="1.1" height="1.1" fill="#26A69A"/>
<rect x="642.89" y="516.2" width="1.1" height="1.3" fill="#26A69A"/>
<rect x="644.96" y="515.9" width="1.1" height="1.6" fill="#26A69A"/>
<rect x="647.03" y="515.7" width="1.1" height="1.8" fill="#26A69A"/>
<rect x="649.10" y="515.5" width="1.1" height="2.0" fill="#26A69A"/>
<rect x="651.17" y="515.4" width="1.1" height="2.1" fill="#26A69A"/>
<rect x="653.24" y="515.3" width="1.1" height="2.2" fill="#26A69A"/>
<rect x="655.31" y="515.2" width="1.1" height="2.3" fill="#26A69A"/>
<rect x="657.38" y="515.0" width="1.1" height="2.5" fill="#26A69A"/>
<rect x="659.45" y="514.9" width="1.1" height="2.6" fill="#26A69A"/>
<rect x="661.52" y="514.8" width="1.1" height="2.7" fill="#26A69A"/>
<rect x="663.59" y="514.7" width="1.1" height="2.8" fill="#26A69A"/>
<rect x="665.66" y="514.5" width="1.1" height="3.0" fill="#26A69A"/>
<rect x="667.73" y="514.9" width="1.1" height="2.6" fill="#B2DFDB"/>
<rect x="669.80" y="515.5" width="1.1" height="2.0" fill="#B2DFDB"/>
<rect x="671.87" y="516.0" width="1.1" height="1.5" fill="#B2DFDB"/>
<rect x="673.94" y="516.0" width="1.1" height="1.5" fill="#B2DFDB"/>
<rect x="676.01" y="516.1" width="1.1" height="1.4" fill="#B2DFDB"/>
<rect x="678.08" y="516.1" width="1.1" height="1.4" fill="#B2DFDB"/>
<rect x="680.15" y="516.1" width="1.1" height="1.4" fill="#B2DFDB"/>
<rect x="682.22" y="516.1" width="1.1" height="1.4" fill="#B2DFDB"/>
<rect x="684.29" y="516.2" width="1.1" height="1.3" fill="#B2DFDB"/>
<rect x="686.36" y="516.2" width="1.1" height="1.3" fill="#B2DFDB"/>
<rect x="688.43" y="516.2" width="1.1" height="1.3" fill="#B2DFDB"/>
<rect x="690.50" y="516.2" width="1.1" height="1.3" fill="#B2DFDB"/>
<rect x="692.57" y="516.3" width="1.1" height="1.2" fill="#B2DFDB"/>
<rect x="694.64" y="516.3" width="1.1" height="1.2" fill="#B2DFDB"/>
<rect x="696.71" y="516.3" width="1.1" height="1.2" fill="#B2DFDB"/>
<rect x="698.78" y="516.3" width="1.1" height="1.2" fill="#B2DFDB"/>
<rect x="700.85" y="516.4" width="1.1" height="1.1" fill="#B2DFDB"/>
<rect x="702.92" y="516.4" width="1.1" height="1.1" fill="#B2DFDB"/>
<rect x="704.99" y="516.4" width="1.1" height="1.1" fill="#B2DFDB"/>
<rect x="707.06" y="516.4" width="1.1" height="1.1" fill="#B2DFDB"/>
<rect x="709.13" y="516.5" width="1.1" height="1.0" fill="#B2DFDB"/>
<rect x="711.20" y="516.5" width="1.1" height="1.0" fill="#B2DFDB"/>
<rect x="713.27" y="516.8" width="1.1" height="0.7" fill="#B2DFDB"/>
<rect x="715.34" y="517.1" width="1.1" height="0.5" fill="#B2DFDB"/>
<rect x="717.41" y="517.5" width="1.1" height="0.5" fill="#B2DFDB"/>
<rect x="719.48" y="517.5" width="1.1" height="1.5" fill="#FF5252"/>
<rect x="721.55" y="517.5" width="1.1" height="1.5" fill="#FF5252"/>
<rect x="723.62" y="517.5" width="1.1" height="1.5" fill="#FF5252"/>
<rect x="725.69" y="517.5" width="1.1" height="1.1" fill="#FFCDD2"/>
<rect x="727.76" y="517.5" width="1.1" height="0.5" fill="#FFCDD2"/>
<rect x="729.83" y="517.3" width="1.1" height="0.5" fill="#26A69A"/>
<rect x="731.90" y="516.5" width="1.1" height="1.0" fill="#26A69A"/>
<rect x="733.97" y="515.7" width="1.1" height="1.8" fill="#26A69A"/>
<rect x="736.04" y="515.4" width="1.1" height="2.1" fill="#26A69A"/>
<rect x="738.11" y="515.3" width="1.1" height="2.2" fill="#26A69A"/>
<rect x="740.18" y="515.2" width="1.1" height="2.3" fill="#26A69A"/>
<rect x="742.25" y="515.1" width="1.1" height="2.4" fill="#26A69A"/>
<rect x="744.32" y="515.0" width="1.1" height="2.5" fill="#26A69A"/>
<rect x="746.39" y="514.9" width="1.1" height="2.6" fill="#26A69A"/>
<rect x="748.46" y="514.8" width="1.1" height="2.7" fill="#26A69A"/>
<rect x="750.53" y="514.7" width="1.1" height="2.8" fill="#26A69A"/>
<rect x="752.60" y="514.6" width="1.1" height="2.9" fill="#26A69A"/>
<rect x="754.67" y="514.5" width="1.1" height="3.0" fill="#26A69A"/>
<rect x="756.74" y="514.4" width="1.1" height="3.1" fill="#26A69A"/>
<rect x="758.81" y="514.3" width="1.1" height="3.2" fill="#26A69A"/>
<rect x="760.88" y="514.2" width="1.1" height="3.3" fill="#26A69A"/>
<rect x="762.95" y="514.1" width="1.1" height="3.4" fill="#26A69A"/>
<rect x="765.02" y="514.0" width="1.1" height="3.5" fill="#26A69A"/>
<rect x="767.09" y="513.9" width="1.1" height="3.6" fill="#26A69A"/>
<rect x="769.16" y="513.8" width="1.1" height="3.7" fill="#26A69A"/>
<rect x="771.23" y="514.9" width="1.1" height="2.6" fill="#B2DFDB"/>
<rect x="773.30" y="516.2" width="1.1" height="1.3" fill="#B2DFDB"/>
<rect x="775.37" y="517.4" width="1.1" height="0.5" fill="#B2DFDB"/>
<rect x="777.44" y="517.5" width="1.1" height="1.0" fill="#FF5252"/>
<rect x="779.51" y="517.5" width="1.1" height="2.0" fill="#FF5252"/>
<rect x="781.58" y="517.5" width="1.1" height="2.1" fill="#FF5252"/>
<rect x="783.65" y="517.5" width="1.1" height="2.1" fill="#FF5252"/>
<rect x="785.72" y="517.5" width="1.1" height="2.2" fill="#FF5252"/>
<rect x="787.79" y="517.5" width="1.1" height="2.3" fill="#FF5252"/>
<rect x="789.86" y="517.5" width="1.1" height="2.3" fill="#FF5252"/>
<rect x="791.93" y="517.5" width="1.1" height="2.4" fill="#FF5252"/>
<rect x="794.00" y="517.5" width="1.1" height="2.5" fill="#FF5252"/>
<rect x="796.07" y="517.5" width="1.1" height="1.7" fill="#FFCDD2"/>
<rect x="798.14" y="517.5" width="1.1" height="0.7" fill="#FFCDD2"/>
<rect x="800.21" y="517.3" width="1.1" height="0.5" fill="#26A69A"/>
<rect x="802.28" y="516.7" width="1.1" height="0.8" fill="#26A69A"/>
<rect x="804.35" y="516.0" width="1.1" height="1.5" fill="#26A69A"/>
<rect x="806.42" y="516.0" width="1.1" height="1.5" fill="#26A69A"/>
<rect x="808.49" y="516.0" width="1.1" height="1.5" fill="#26A69A"/>
<rect x="810.56" y="516.0" width="1.1" height="1.5" fill="#26A69A"/>
<rect x="812.63" y="516.0" width="1.1" height="1.5" fill="#26A69A"/>
<rect x="814.70" y="517.5" width="1.1" height="1.0" fill="#FF5252"/>
<rect x="816.77" y="517.5" width="1.1" height="1.3" fill="#FF5252"/>
<rect x="818.84" y="517.5" width="1.1" height="1.6" fill="#FF5252"/>
<rect x="820.91" y="517.5" width="1.1" height="1.9" fill="#FF5252"/>
<rect x="822.98" y="517.5" width="1.1" height="2.1" fill="#FF5252"/>
<rect x="825.05" y="517.5" width="1.1" height="2.4" fill="#FF5252"/>
<rect x="827.12" y="517.5" width="1.1" height="2.7" fill="#FF5252"/>
<rect x="829.19" y="517.5" width="1.1" height="3.0" fill="#FF5252"/>
<rect x="831.26" y="517.5" width="1.1" height="1.9" fill="#FFCDD2"/>
<rect x="833.33" y="517.5" width="1.1" height="0.7" fill="#FFCDD2"/>
<rect x="835.40" y="517.5" width="1.1" height="0.5" fill="#FFCDD2"/>
<rect x="837.47" y="517.5" width="1.1" height="0.5" fill="#FF5252"/>
<rect x="839.54" y="517.5" width="1.1" height="0.5" fill="#FF5252"/>
<rect x="841.61" y="517.5" width="1.1" height="0.7" fill="#FF5252"/>
<rect x="843.68" y="517.5" width="1.1" height="0.9" fill="#FF5252"/>
<rect x="845.75" y="517.5" width="1.1" height="1.1" fill="#FF5252"/>
<rect x="847.82" y="517.5" width="1.1" height="1.3" fill="#FF5252"/>
<rect x="849.89" y="517.5" width="1.1" height="1.5" fill="#FF5252"/>
<rect x="851.96" y="517.5" width="1.1" height="1.5" fill="#FF5252"/>
<rect x="854.03" y="517.5" width="1.1" height="1.5" fill="#FF5252"/>
<rect x="856.10" y="517.5" width="1.1" height="1.5" fill="#FF5252"/>
<rect x="858.17" y="517.5" width="1.1" height="1.5" fill="#FF5252"/>
<rect x="860.24" y="517.5" width="1.1" height="1.3" fill="#FFCDD2"/>
<rect x="862.31" y="517.5" width="1.1" height="0.6" fill="#FFCDD2"/>
<rect x="864.38" y="517.5" width="1.1" height="0.5" fill="#FFCDD2"/>
<rect x="866.45" y="517.5" width="1.1" height="1.0" fill="#FF5252"/>
<rect x="868.52" y="517.5" width="1.1" height="2.0" fill="#FF5252"/>
<rect x="870.59" y="517.5" width="1.1" height="3.1" fill="#FF5252"/>
<rect x="872.66" y="517.5" width="1.1" height="3.5" fill="#FF5252"/>
<rect x="874.73" y="517.5" width="1.1" height="3.6" fill="#FF5252"/>
<rect x="876.80" y="517.5" width="1.1" height="3.6" fill="#FF5252"/>
<rect x="878.87" y="517.5" width="1.1" height="3.6" fill="#FF5252"/>
<rect x="880.94" y="517.5" width="1.1" height="3.7" fill="#FF5252"/>
<rect x="883.01" y="517.5" width="1.1" height="3.7" fill="#FF5252"/>
<rect x="885.08" y="517.5" width="1.1" height="3.5" fill="#FFCDD2"/>
<rect x="887.15" y="517.5" width="1.1" height="2.5" fill="#FFCDD2"/>
<rect x="889.22" y="517.5" width="1.1" height="1.6" fill="#FFCDD2"/>
<rect x="891.29" y="517.5" width="1.1" height="0.9" fill="#FFCDD2"/>
<rect x="893.36" y="517.5" width="1.1" height="0.5" fill="#FFCDD2"/>
<rect x="895.43" y="517.0" width="1.1" height="0.5" fill="#26A69A"/>
<rect x="897.50" y="516.5" width="1.1" height="1.0" fill="#26A69A"/>
<rect x="899.57" y="516.5" width="1.1" height="1.0" fill="#26A69A"/>
<rect x="901.64" y="516.5" width="1.1" height="1.0" fill="#B2DFDB"/>
<rect x="903.71" y="517.0" width="1.1" height="0.5" fill="#B2DFDB"/>
<rect x="905.78" y="517.4" width="1.1" height="0.5" fill="#B2DFDB"/>
<rect x="907.85" y="516.1" width="1.1" height="1.4" fill="#26A69A"/>
<rect x="909.92" y="514.4" width="1.1" height="3.1" fill="#26A69A"/>
<rect x="911.99" y="513.9" width="1.1" height="3.6" fill="#26A69A"/>
<rect x="914.06" y="513.5" width="1.1" height="4.0" fill="#26A69A"/>
<rect x="916.13" y="513.1" width="1.1" height="4.4" fill="#26A69A"/>
<rect x="918.20" y="512.6" width="1.1" height="4.9" fill="#26A69A"/>
<rect x="920.27" y="512.2" width="1.1" height="5.3" fill="#26A69A"/>
<rect x="922.34" y="511.7" width="1.1" height="5.8" fill="#26A69A"/>
<rect x="924.41" y="511.3" width="1.1" height="6.2" fill="#26A69A"/>
<rect x="926.48" y="511.6" width="1.1" height="5.9" fill="#B2DFDB"/>
<rect x="928.55" y="512.0" width="1.1" height="5.5" fill="#B2DFDB"/>
<rect x="930.62" y="512.3" width="1.1" height="5.2" fill="#B2DFDB"/>
<rect x="932.69" y="512.7" width="1.1" height="4.8" fill="#B2DFDB"/>
<rect x="934.76" y="513.1" width="1.1" height="4.4" fill="#B2DFDB"/>
<rect x="936.83" y="513.4" width="1.1" height="4.1" fill="#B2DFDB"/>
<rect x="938.90" y="513.8" width="1.1" height="3.7" fill="#B2DFDB"/>
<rect x="940.97" y="514.1" width="1.1" height="3.4" fill="#B2DFDB"/>
<rect x="943.04" y="514.5" width="1.1" height="3.0" fill="#B2DFDB"/>
<rect x="945.11" y="514.9" width="1.1" height="2.6" fill="#B2DFDB"/>
<rect x="947.18" y="515.2" width="1.1" height="2.3" fill="#B2DFDB"/>
<rect x="949.25" y="515.6" width="1.1" height="1.9" fill="#B2DFDB"/>
<rect x="951.32" y="516.0" width="1.1" height="1.5" fill="#B2DFDB"/>
<rect x="953.39" y="516.3" width="1.1" height="1.2" fill="#B2DFDB"/>
<rect x="955.46" y="516.8" width="1.1" height="0.7" fill="#B2DFDB"/>
<rect x="957.53" y="517.5" width="1.1" height="0.5" fill="#FF5252"/>
<rect x="959.60" y="517.5" width="1.1" height="2.0" fill="#FF5252"/>
<rect x="961.67" y="517.5" width="1.1" height="2.6" fill="#FF5252"/>
<rect x="963.74" y="517.5" width="1.1" height="3.1" fill="#FF5252"/>
<rect x="965.81" y="517.5" width="1.1" height="3.6" fill="#FF5252"/>
<rect x="967.88" y="517.5" width="1.1" height="4.1" fill="#FF5252"/>
<rect x="969.95" y="517.5" width="1.1" height="4.5" fill="#FF5252"/>
<rect x="972.02" y="517.5" width="1.1" height="4.6" fill="#FF5252"/>
<rect x="974.09" y="517.5" width="1.1" height="4.7" fill="#FF5252"/>
<rect x="976.16" y="517.5" width="1.1" height="4.8" fill="#FF5252"/>
<rect x="978.23" y="517.5" width="1.1" height="4.9" fill="#FF5252"/>
<rect x="980.30" y="517.5" width="1.1" height="4.1" fill="#FFCDD2"/>
<rect x="982.37" y="517.5" width="1.1" height="2.1" fill="#FFCDD2"/>
<rect x="984.44" y="517.5" width="1.1" height="0.5" fill="#FFCDD2"/>
<rect x="986.51" y="517.3" width="1.1" height="0.5" fill="#26A69A"/>
<rect x="988.58" y="517.1" width="1.1" height="0.5" fill="#26A69A"/>
<rect x="990.65" y="517.0" width="1.1" height="0.5" fill="#26A69A"/>
<rect x="992.72" y="516.9" width="1.1" height="0.6" fill="#26A69A"/>
<rect x="994.79" y="516.9" width="1.1" height="0.6" fill="#26A69A"/>
<rect x="996.86" y="516.8" width="1.1" height="0.7" fill="#26A69A"/>
<rect x="998.93" y="516.8" width="1.1" height="0.7" fill="#26A69A"/>
<rect x="1001.00" y="516.7" width="1.1" height="0.8" fill="#26A69A"/>
<rect x="1003.07" y="516.7" width="1.1" height="0.8" fill="#26A69A"/>
<rect x="1005.14" y="516.6" width="1.1" height="0.9" fill="#26A69A"/>
<rect x="1007.21" y="516.6" width="1.1" height="0.9" fill="#26A69A"/>
<rect x="1009.28" y="516.5" width="1.1" height="1.0" fill="#26A69A"/>
<rect x="1011.35" y="516.5" width="1.1" height="1.0" fill="#26A69A"/>
<rect x="1013.42" y="516.5" width="1.1" height="1.0" fill="#26A69A"/>
<rect x="1015.49" y="516.5" width="1.1" height="1.0" fill="#26A69A"/>
<rect x="1017.56" y="516.5" width="1.1" height="1.0" fill="#26A69A"/>
<rect x="1019.63" y="516.5" width="1.1" height="1.0" fill="#26A69A"/>
<rect x="1021.70" y="516.5" width="1.1" height="1.0" fill="#26A69A"/>
<rect x="1023.77" y="516.5" width="1.1" height="1.0" fill="#26A69A"/>
<rect x="1025.84" y="516.5" width="1.1" height="1.0" fill="#26A69A"/>
<rect x="1027.91" y="516.5" width="1.1" height="1.0" fill="#26A69A"/>
<rect x="1029.98" y="516.5" width="1.1" height="1.0" fill="#26A69A"/>
<rect x="1032.05" y="516.5" width="1.1" height="1.0" fill="#26A69A"/>
<rect x="1034.12" y="516.5" width="1.1" height="1.0" fill="#26A69A"/>
<rect x="1036.19" y="516.5" width="1.1" height="1.0" fill="#26A69A"/>
<rect x="1038.26" y="516.5" width="1.1" height="1.0" fill="#26A69A"/>
<rect x="1040.33" y="516.9" width="1.1" height="0.6" fill="#B2DFDB"/>
<rect x="1042.40" y="517.5" width="1.1" height="1.4" fill="#FF5252"/>
<rect x="1044.47" y="517.5" width="1.1" height="1.8" fill="#FF5252"/>
<rect x="1046.54" y="517.5" width="1.1" height="4.7" fill="#FF5252"/>
<rect x="1048.61" y="517.5" width="1.1" height="9.9" fill="#FF5252"/>
<rect x="1050.68" y="517.5" width="1.1" height="13.2" fill="#FF5252"/>
<rect x="1052.75" y="517.5" width="1.1" height="15.3" fill="#FF5252"/>
<rect x="1054.82" y="517.5" width="1.1" height="17.0" fill="#FF5252"/>
<rect x="1056.89" y="517.5" width="1.1" height="17.0" fill="#FF5252"/>
<path d="M6.0,510.0 C7.8,510.0 17.2,511.6 22.0,510.0 C26.8,508.4 43.9,500.7 49.0,496.0 C54.1,491.3 64.1,469.3 67.5,467.5 C70.9,465.7 76.9,475.3 80.0,480.0 C83.1,484.7 91.9,504.4 95.0,510.0 C98.1,515.6 104.2,527.3 107.5,530.0 C110.8,532.7 121.4,533.4 125.0,534.0 C128.6,534.6 135.8,535.3 140.0,535.0 C144.2,534.7 156.7,532.9 162.5,531.0 C168.3,529.1 186.9,520.4 192.5,517.5 C198.1,514.6 207.2,506.4 212.5,505.0 C217.8,503.6 233.1,503.7 240.0,504.5 C246.9,505.3 268.3,511.9 275.0,512.5 C281.7,513.1 295.9,509.9 300.0,509.5 C304.1,509.1 309.2,508.1 312.0,509.0 C314.8,509.9 321.9,516.1 325.0,517.5 C328.1,518.9 335.9,522.2 340.0,522.0 C344.1,521.8 355.9,516.1 362.0,516.0 C368.1,515.9 388.0,521.2 395.0,521.0 C402.0,520.8 419.4,514.8 425.0,514.0 C430.6,513.2 439.4,513.4 445.0,514.0 C450.6,514.6 468.9,518.2 475.0,519.0 C481.1,519.8 492.8,521.9 500.0,521.0 C507.2,520.1 534.4,512.2 540.0,511.0 C545.6,509.8 546.1,507.8 550.0,510.0 C553.9,512.2 569.4,529.2 575.0,531.0 C580.6,532.8 595.3,527.2 600.0,526.0 C604.7,524.8 614.2,520.2 617.5,520.0 C620.8,519.8 626.9,523.5 630.0,524.0 C633.1,524.5 640.0,525.3 645.0,524.5 C650.0,523.7 668.3,518.6 675.0,517.0 C681.7,515.4 698.9,510.3 705.0,510.0 C711.1,509.7 723.1,515.3 730.0,514.5 C736.9,513.7 760.8,503.8 767.5,503.0 C774.2,502.2 785.0,507.1 790.0,507.5 C795.0,507.9 807.2,506.4 812.5,507.0 C817.8,507.6 831.1,511.3 837.5,512.5 C843.9,513.7 865.3,516.6 870.0,517.5 C874.7,518.4 875.6,520.4 880.0,521.0 C884.4,521.6 905.0,523.7 910.0,522.5 C915.0,521.3 920.0,512.7 925.0,510.0 C930.0,507.3 948.1,498.0 955.0,498.0 C961.9,498.0 980.8,508.9 987.5,510.0 C994.2,511.1 1009.2,507.9 1015.0,508.0 C1020.8,508.1 1036.4,510.1 1040.0,511.0 C1043.6,511.9 1045.8,514.1 1047.5,516.0 C1049.2,517.9 1054.2,526.7 1055.0,528.0" fill="none" stroke="#FF6D00" stroke-width="1" stroke-linejoin="round"/>
<path d="M6.0,510.0 C7.8,510.0 18.1,511.8 22.0,510.0 C25.9,508.2 38.0,495.8 41.0,494.0 C44.0,492.2 46.6,498.4 49.0,494.0 C51.4,489.6 57.7,451.4 62.5,454.0 C67.3,456.6 87.8,508.1 92.5,517.5 C97.2,526.9 102.8,537.1 105.0,539.0 C107.2,540.9 109.5,535.9 112.0,535.0 C114.5,534.1 124.5,530.7 127.5,531.0 C130.5,531.3 136.8,537.6 139.0,537.5 C141.2,537.4 144.9,531.3 147.5,530.5 C150.1,529.7 159.4,530.9 162.5,530.0 C165.6,529.1 172.2,523.7 175.0,522.5 C177.8,521.3 185.3,520.3 187.5,519.0 C189.7,517.7 192.9,512.8 195.0,511.0 C197.1,509.2 203.5,502.8 206.0,502.5 C208.5,502.2 213.7,507.7 217.5,508.0 C221.3,508.3 235.3,504.8 240.0,505.0 C244.7,505.2 256.6,508.9 260.0,510.0 C263.4,511.1 267.9,515.1 271.0,515.0 C274.1,514.9 284.3,509.7 287.5,509.0 C290.7,508.3 297.5,509.0 300.0,509.0 C302.5,509.0 307.8,507.9 310.0,509.0 C312.2,510.1 317.2,517.4 320.0,519.0 C322.8,520.6 330.6,523.3 335.0,523.0 C339.4,522.7 355.6,516.4 360.0,516.0 C364.4,515.6 371.7,518.7 375.0,519.0 C378.3,519.3 387.2,518.4 390.0,519.0 C392.8,519.6 397.2,523.9 400.0,524.0 C402.8,524.1 411.1,521.4 415.0,520.0 C418.9,518.6 431.1,511.7 435.0,511.0 C438.9,510.3 446.1,513.3 450.0,514.0 C453.9,514.7 466.1,516.6 470.0,517.5 C473.9,518.4 481.7,522.1 485.0,522.5 C488.3,522.9 496.1,522.1 500.0,521.0 C503.9,519.9 515.6,513.8 520.0,512.5 C524.4,511.2 536.7,509.7 540.0,509.5 C543.3,509.3 548.1,509.3 550.0,511.0 C551.9,512.7 555.6,522.4 557.5,525.0 C559.4,527.6 565.6,532.9 567.5,534.0 C569.4,535.1 573.1,535.2 575.0,534.5 C576.9,533.8 582.2,528.7 585.0,527.5 C587.8,526.3 596.7,524.9 600.0,524.0 C603.3,523.1 612.2,519.6 615.0,519.5 C617.8,519.4 621.1,522.6 625.0,523.0 C628.9,523.4 646.1,523.4 650.0,523.0 C653.9,522.6 657.2,519.9 660.0,519.0 C662.8,518.1 671.1,516.1 675.0,515.0 C678.9,513.9 691.7,510.1 695.0,509.5 C698.3,508.9 701.7,509.0 705.0,509.5 C708.3,510.0 721.1,513.8 725.0,514.0 C728.9,514.2 736.1,511.9 740.0,511.0 C743.9,510.1 756.9,507.0 760.0,506.0 C763.1,505.0 764.2,501.7 767.5,502.0 C770.8,502.3 785.0,508.6 790.0,509.0 C795.0,509.4 808.1,505.4 812.5,506.0 C816.9,506.6 825.8,513.1 830.0,514.0 C834.2,514.9 846.1,514.1 850.0,514.5 C853.9,514.9 861.9,516.6 865.0,517.5 C868.1,518.4 874.7,522.3 877.5,523.0 C880.3,523.7 886.4,524.2 890.0,524.0 C893.6,523.8 906.7,522.4 910.0,521.0 C913.3,519.6 917.2,513.4 920.0,511.0 C922.8,508.6 931.1,500.4 935.0,499.0 C938.9,497.6 951.1,497.2 955.0,498.0 C958.9,498.8 966.7,504.4 970.0,506.0 C973.3,507.6 981.7,511.6 985.0,512.0 C988.3,512.4 996.9,510.5 1000.0,510.0 C1003.1,509.5 1009.7,507.5 1012.5,507.5 C1015.3,507.5 1021.9,509.6 1025.0,510.0 C1028.1,510.4 1037.8,510.2 1040.0,511.0 C1042.2,511.8 1043.9,514.8 1045.0,517.5 C1046.1,520.2 1048.9,531.8 1050.0,535.0 C1051.1,538.2 1054.4,544.8 1055.0,546.0" fill="none" stroke="#2962FF" stroke-width="1" stroke-linejoin="round"/>
<text x="6.7" y="12.6" font-family="Liberation Sans, sans-serif" font-size="8.6" fill="#131722" textLength="238" lengthAdjust="spacingAndGlyphs">oanh2306 created with TradingView.com, Apr 08, 2026 09:35 UTC+7</text>
<text x="12" y="29.9" font-family="Liberation Sans, sans-serif" font-size="8.2" fill="#131722" textLength="152" lengthAdjust="spacingAndGlyphs">CL1! · Light Crude Oil Futures · 1h · NYMEX</text>
<text x="169" y="29.9" font-family="Liberation Sans, sans-serif" font-size="8.2" textLength="23.5" lengthAdjust="spacingAndGlyphs"><tspan fill="#131722">O</tspan><tspan fill="#089981">96.73</tspan></text>
<text x="198" y="29.9" font-family="Liberation Sans, sans-serif" font-size="8.2" textLength="24" lengthAdjust="spacingAndGlyphs"><tspan fill="#131722">H</tspan><tspan fill="#089981">96.95</tspan></text>
<text x="227.5" y="29.9" font-family="Liberation Sans, sans-serif" font-size="8.2" textLength="22.5" lengthAdjust="spacingAndGlyphs"><tspan fill="#131722">L</tspan><tspan fill="#089981">96.03</tspan></text>
<text x="256" y="29.9" font-family="Liberation Sans, sans-serif" font-size="8.2" textLength="22" lengthAdjust="spacingAndGlyphs"><tspan fill="#131722">C</tspan><tspan fill="#089981">96.93</tspan></text>
<text x="285" y="29.9" font-family="Liberation Sans, sans-serif" font-size="8.2" fill="#089981" textLength="50" lengthAdjust="spacingAndGlyphs">+0.21 (+0.22%)</text>
<text x="1151.2" y="60.2" font-family="Liberation Sans, sans-serif" font-size="11.5" fill="#131722" stroke="#131722" stroke-width="0.15">120.00</text>
<text x="1151.2" y="92.8" font-family="Liberation Sans, sans-serif" font-size="11.5" fill="#131722" stroke="#131722" stroke-width="0.15">116.00</text>
<text x="1151.2" y="125.4" font-family="Liberation Sans, sans-serif" font-size="11.5" fill="#131722" stroke="#131722" stroke-width="0.15">112.00</text>
<text x="1151.2" y="158.0" font-family="Liberation Sans, sans-serif" font-size="11.5" fill="#131722" stroke="#131722" stroke-width="0.15">108.00</text>
<text x="1151.2" y="190.6" font-family="Liberation Sans, sans-serif" font-size="11.5" fill="#131722" stroke="#131722" stroke-width="0.15">104.00</text>
<text x="1151.2" y="223.2" font-family="Liberation Sans, sans-serif" font-size="11.5" fill="#131722" stroke="#131722" stroke-width="0.15">100.00</text>
<text x="1151.2" y="288.4" font-family="Liberation Sans, sans-serif" font-size="11.5" fill="#131722" stroke="#131722" stroke-width="0.15">92.00</text>
<text x="1151.2" y="321.0" font-family="Liberation Sans, sans-serif" font-size="11.5" fill="#131722" stroke="#131722" stroke-width="0.15">88.00</text>
<text x="1151.2" y="353.6" font-family="Liberation Sans, sans-serif" font-size="11.5" fill="#131722" stroke="#131722" stroke-width="0.15">84.00</text>
<text x="1151.2" y="386.2" font-family="Liberation Sans, sans-serif" font-size="11.5" fill="#131722" stroke="#131722" stroke-width="0.15">80.00</text>
<text x="1151.2" y="418.8" font-family="Liberation Sans, sans-serif" font-size="11.5" fill="#131722" stroke="#131722" stroke-width="0.15">76.00</text>
<text x="1151.2" y="450.2" font-family="Liberation Sans, sans-serif" font-size="11.5" fill="#131722" stroke="#131722" stroke-width="0.15">10.00</text>
<text x="1151.2" y="485.9" font-family="Liberation Sans, sans-serif" font-size="11.5" fill="#131722" stroke="#131722" stroke-width="0.15">5.00</text>
<text x="1151.2" y="521.5" font-family="Liberation Sans, sans-serif" font-size="11.5" fill="#131722" stroke="#131722" stroke-width="0.15">0.00</text>
<text x="1151.2" y="557.1" font-family="Liberation Sans, sans-serif" font-size="11.5" fill="#131722" stroke="#131722" stroke-width="0.15">−5.00</text>
<rect x="1144" y="436" width="48" height="6.8" fill="#fff"/>
<line x1="1144" y1="443.3" x2="1193" y2="443.3" stroke="#f3f4f6" stroke-width="1"/>
<rect x="1144" y="557" width="48" height="6" fill="#fff"/>
<rect x="1144" y="20" width="48" height="35" rx="2" fill="#f3f4f6" opacity="0.8"/>
<rect x="1145" y="20.5" width="46" height="32" rx="2" fill="#ffffff" stroke="#eef0f3" stroke-width="1"/>
<text x="1151.5" y="32.2" font-family="Liberation Sans, sans-serif" font-size="8.5" fill="#2a2e39" textLength="12.8" lengthAdjust="spacingAndGlyphs">USD</text>
<text x="1151.5" y="48.6" font-family="Liberation Sans, sans-serif" font-size="8.5" fill="#2a2e39" textLength="11.5" lengthAdjust="spacingAndGlyphs">BLL</text>
<rect x="1089.5" y="235.3" width="52.5" height="17.5" fill="#089981"/>
<text x="1094" y="248" font-family="Liberation Sans, sans-serif" font-size="11.5" font-weight="bold" fill="#ffffff" textLength="44" lengthAdjust="spacingAndGlyphs">CLK2026</text>
<rect x="1143" y="235.3" width="41" height="31.4" fill="#089981"/>
<text x="1150.7" y="248" font-family="Liberation Sans, sans-serif" font-size="11.5" font-weight="bold" fill="#ffffff" textLength="28" lengthAdjust="spacingAndGlyphs">96.93</text>
<text x="1150.7" y="261.5" font-family="Liberation Sans, sans-serif" font-size="11.5" font-weight="bold" fill="#ffffff" textLength="28" lengthAdjust="spacingAndGlyphs">34:47</text>
<text x="11.7" y="455.8" font-family="Liberation Sans, sans-serif" font-size="8.2" fill="#131722" textLength="81.6" lengthAdjust="spacingAndGlyphs">MACD (close, 12, 26, 9)</text>
<text x="99" y="455.8" font-family="Liberation Sans, sans-serif" font-size="8.2" fill="#F7A9A7" textLength="18.5" lengthAdjust="spacingAndGlyphs">−2.20</text>
<text x="123" y="455.8" font-family="Liberation Sans, sans-serif" font-size="8.2" fill="#2962FF" textLength="18.7" lengthAdjust="spacingAndGlyphs">−4.06</text>
<text x="146.7" y="455.8" font-family="Liberation Sans, sans-serif" font-size="8.2" fill="#FF6D00" textLength="19" lengthAdjust="spacingAndGlyphs">−1.87</text>
<circle cx="1056.2" cy="434.6" r="6.2" fill="#fff" stroke="#9448c4" stroke-width="1.1"/>
<path d="M1058.2,430.6 L1054,435.2 L1056.5,435.2 L1054.3,438.7 L1058.4,434 L1055.9,434 Z" fill="#9448c4"/>
<text x="40" y="572.9" font-family="Liberation Sans, sans-serif" font-size="11.5" fill="#131722" stroke="#131722" stroke-width="0.2" text-anchor="middle">7</text>
<text x="137.5" y="572.9" font-family="Liberation Sans, sans-serif" font-size="11.5" fill="#131722" stroke="#131722" stroke-width="0.2" text-anchor="middle">11</text>
<text x="232.5" y="572.9" font-family="Liberation Sans, sans-serif" font-size="11.5" fill="#131722" stroke="#131722" stroke-width="0.2" text-anchor="middle">13</text>
<text x="288.5" y="572.9" font-family="Liberation Sans, sans-serif" font-size="11.5" fill="#131722" stroke="#131722" stroke-width="0.2" text-anchor="middle">16</text>
<text x="375" y="572.9" font-family="Liberation Sans, sans-serif" font-size="11.5" fill="#131722" stroke="#131722" stroke-width="0.2" text-anchor="middle">18</text>
<text x="470" y="572.9" font-family="Liberation Sans, sans-serif" font-size="11.5" fill="#131722" stroke="#131722" stroke-width="0.2" text-anchor="middle">20</text>
<text x="525.75" y="572.9" font-family="Liberation Sans, sans-serif" font-size="11.5" fill="#131722" stroke="#131722" stroke-width="0.2" text-anchor="middle">23</text>
<text x="612" y="572.9" font-family="Liberation Sans, sans-serif" font-size="11.5" fill="#131722" stroke="#131722" stroke-width="0.2" text-anchor="middle">25</text>
<text x="707" y="572.9" font-family="Liberation Sans, sans-serif" font-size="11.5" fill="#131722" stroke="#131722" stroke-width="0.2" text-anchor="middle">27</text>
<text x="763" y="572.9" font-family="Liberation Sans, sans-serif" font-size="11.5" fill="#131722" stroke="#131722" stroke-width="0.2" text-anchor="middle">30</text>
<text x="849" y="572.9" font-family="Liberation Sans, sans-serif" font-size="11.5" fill="#131722" stroke="#131722" stroke-width="0.2" text-anchor="middle">Apr</text>
<text x="944.5" y="572.9" font-family="Liberation Sans, sans-serif" font-size="11.5" fill="#131722" stroke="#131722" stroke-width="0.2" text-anchor="middle">3</text>
<text x="1039.5" y="572.9" font-family="Liberation Sans, sans-serif" font-size="11.5" fill="#131722" stroke="#131722" stroke-width="0.2" text-anchor="middle">8</text>
<text x="1135" y="572.9" font-family="Liberation Sans, sans-serif" font-size="11.5" fill="#131722" stroke="#131722" stroke-width="0.2" text-anchor="middle">10</text>
<path d="M8,597.5 H16 V606.8 H12 V601 H8 Z" fill="#131722"/>
<circle cx="18.8" cy="599" r="1.75" fill="#131722"/>
<path d="M22.6,597.3 H26.9 L23.7,606.8 H19.2 Z" fill="#131722"/>
<text x="32" y="606.8" font-family="Liberation Sans, sans-serif" font-size="13" font-weight="bold" fill="#131722" textLength="78.5" lengthAdjust="spacingAndGlyphs">TradingView</text>
</svg>
</body></html>
